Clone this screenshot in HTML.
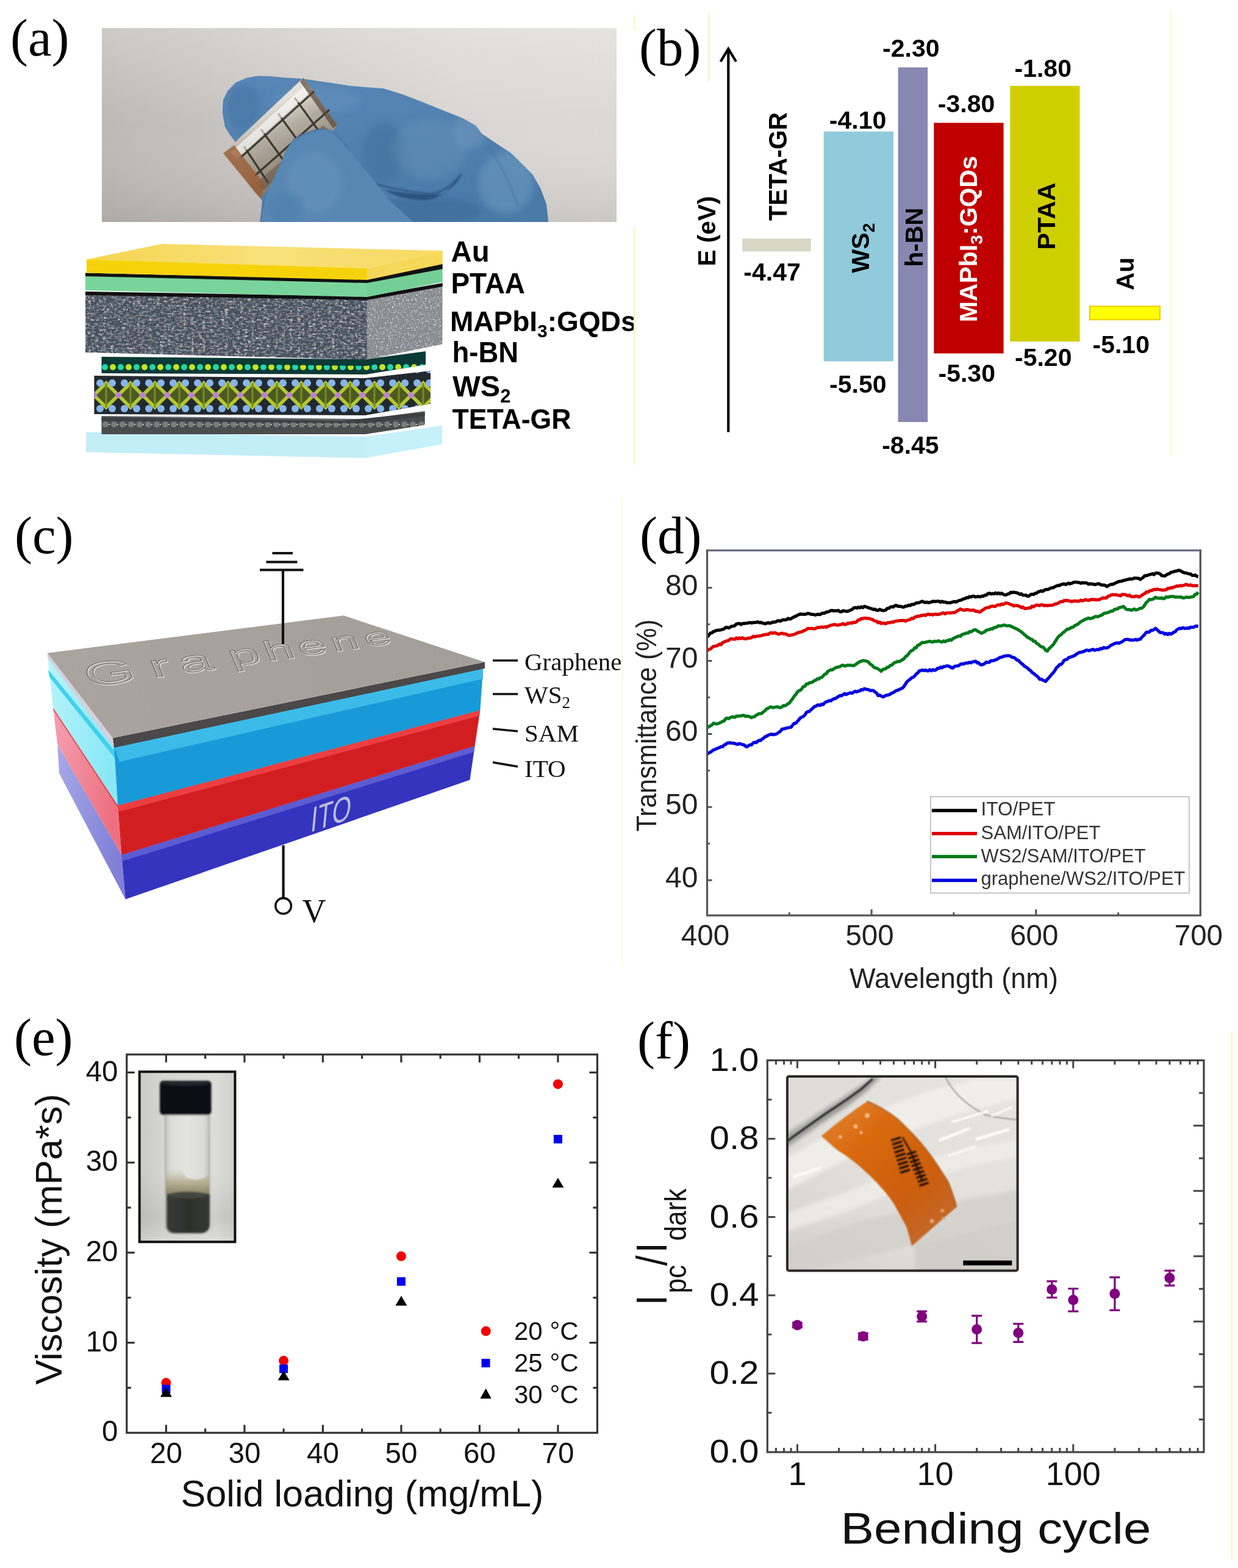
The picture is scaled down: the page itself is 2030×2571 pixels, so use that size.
<!DOCTYPE html><html><head><meta charset="utf-8"><style>html,body{margin:0;padding:0;background:#fff}svg{display:block}</style></head><body><svg width="2030" height="2571" viewBox="0 0 2030 2571"><rect width="2030" height="2571" fill="#fff"/>
<text x="17.0" y="90.6" font-size="87" font-family="Liberation Serif, Times New Roman, serif" fill="#000" text-anchor="start" >(a)</text>
<text x="1048.0" y="106.7" font-size="87" font-family="Liberation Serif, Times New Roman, serif" fill="#000" text-anchor="start" >(b)</text>
<text x="24.0" y="907.0" font-size="87" font-family="Liberation Serif, Times New Roman, serif" fill="#000" text-anchor="start" >(c)</text>
<text x="1049.0" y="907.0" font-size="87" font-family="Liberation Serif, Times New Roman, serif" fill="#000" text-anchor="start" >(d)</text>
<text x="23.0" y="1729.7" font-size="87" font-family="Liberation Serif, Times New Roman, serif" fill="#000" text-anchor="start" >(e)</text>
<text x="1045.0" y="1735.0" font-size="87" font-family="Liberation Serif, Times New Roman, serif" fill="#000" text-anchor="start" >(f)</text>
<line x1="1162.3" y1="20" x2="1162.3" y2="135" stroke="#f2f2c8" stroke-width="2"/>
<line x1="1920" y1="17" x2="1920" y2="748" stroke="#fbfbd8" stroke-width="3"/>
<line x1="1194.3" y1="82.0" x2="1194.3" y2="708.5" stroke="#000" stroke-width="4.2" />
<path d="M1181.5 101 L1194.3 80 L1207 101" fill="none" stroke="#000" stroke-width="4.2" stroke-linejoin="miter"/>
<rect x="1217.3" y="391.2" width="112.4" height="21.1" fill="#d8d6c4"/>
<rect x="1350.6" y="215.6" width="114.4" height="376.9" fill="#91cadb"/>
<rect x="1472.6" y="110.5" width="48.6" height="581.5" fill="#8887b1"/>
<rect x="1531.3" y="201.4" width="114.3" height="378.1" fill="#c00000"/>
<rect x="1656.2" y="140.8" width="114.3" height="419.2" fill="#cfcf00"/>
<rect x="1787" y="502.2" width="115" height="22" fill="#ffff00" stroke="#f2c800" stroke-width="2"/>
<text x="1447.1" y="92.9" font-size="41" font-family="Liberation Sans, Arial, sans-serif" font-weight="bold" fill="#000" text-anchor="start" >-2.30</text>
<text x="1359.8" y="210.9" font-size="41" font-family="Liberation Sans, Arial, sans-serif" font-weight="bold" fill="#000" text-anchor="start" >-4.10</text>
<text x="1537.8" y="183.5" font-size="41" font-family="Liberation Sans, Arial, sans-serif" font-weight="bold" fill="#000" text-anchor="start" >-3.80</text>
<text x="1663.5" y="125.7" font-size="41" font-family="Liberation Sans, Arial, sans-serif" font-weight="bold" fill="#000" text-anchor="start" >-1.80</text>
<text x="1219.3" y="460.3" font-size="41" font-family="Liberation Sans, Arial, sans-serif" font-weight="bold" fill="#000" text-anchor="start" >-4.47</text>
<text x="1360.1" y="643.5" font-size="41" font-family="Liberation Sans, Arial, sans-serif" font-weight="bold" fill="#000" text-anchor="start" >-5.50</text>
<text x="1446.2" y="743.6" font-size="41" font-family="Liberation Sans, Arial, sans-serif" font-weight="bold" fill="#000" text-anchor="start" >-8.45</text>
<text x="1538.5" y="625.9" font-size="41" font-family="Liberation Sans, Arial, sans-serif" font-weight="bold" fill="#000" text-anchor="start" >-5.30</text>
<text x="1664.0" y="599.6" font-size="41" font-family="Liberation Sans, Arial, sans-serif" font-weight="bold" fill="#000" text-anchor="start" >-5.20</text>
<text x="1791.5" y="578.5" font-size="41" font-family="Liberation Sans, Arial, sans-serif" font-weight="bold" fill="#000" text-anchor="start" >-5.10</text>
<text transform="translate(1173.2,436.5) rotate(-90)" font-size="41" font-family="Liberation Sans, Arial, sans-serif" font-weight="bold" fill="#000" textLength="115" lengthAdjust="spacingAndGlyphs">E (eV)</text>
<text transform="translate(1289.9,362.0) rotate(-90)" font-size="42.5" font-family="Liberation Sans, Arial, sans-serif" font-weight="bold" fill="#000" textLength="178" lengthAdjust="spacingAndGlyphs">TETA-GR</text>
<text transform="translate(1424.5,447.4) rotate(-90)" font-size="41" font-family="Liberation Sans, Arial, sans-serif" font-weight="bold" fill="#000">WS<tspan font-size="28" dy="9">2</tspan></text>
<text transform="translate(1512.8,437.5) rotate(-90)" font-size="41" font-family="Liberation Sans, Arial, sans-serif" font-weight="bold" fill="#000" textLength="97" lengthAdjust="spacingAndGlyphs">h-BN</text>
<text transform="translate(1601.5,528.3) rotate(-90)" font-size="41" font-family="Liberation Sans, Arial, sans-serif" font-weight="bold" fill="#fff">MAPbI<tspan font-size="28" dy="9">3</tspan><tspan dy="-9">:GQDs</tspan></text>
<text transform="translate(1729.7,409.5) rotate(-90)" font-size="41" font-family="Liberation Sans, Arial, sans-serif" font-weight="bold" fill="#000" textLength="110" lengthAdjust="spacingAndGlyphs">PTAA</text>
<text transform="translate(1858.7,476.0) rotate(-90)" font-size="41" font-family="Liberation Sans, Arial, sans-serif" font-weight="bold" fill="#000" textLength="54" lengthAdjust="spacingAndGlyphs">Au</text>
<path d="M1159.8 1044.6L1162.3 1041.4L1164.8 1038.1L1167.3 1037.7L1169.8 1035.5L1172.3 1034.9L1174.8 1033.7L1177.3 1033.3L1179.8 1033.2L1182.3 1032.8L1184.8 1031.9L1187.3 1031.2L1189.8 1028.8L1192.3 1028.7L1194.8 1029.7L1197.3 1028.4L1199.8 1026.8L1202.3 1026.6L1204.8 1026.0L1207.3 1023.2L1209.8 1022.6L1212.3 1022.2L1214.8 1024.0L1217.3 1022.3L1219.8 1022.4L1222.3 1022.0L1224.8 1021.9L1227.3 1021.3L1229.8 1020.8L1232.3 1021.6L1234.8 1020.8L1237.3 1020.6L1239.8 1020.7L1242.3 1019.7L1244.8 1020.9L1247.3 1020.4L1249.8 1021.6L1252.3 1021.9L1254.8 1022.8L1257.3 1021.7L1259.8 1021.0L1262.3 1022.0L1264.8 1021.3L1267.3 1019.9L1269.8 1020.2L1272.3 1019.4L1274.8 1017.9L1277.3 1017.9L1279.8 1018.5L1282.3 1016.6L1284.8 1016.3L1287.3 1016.4L1289.8 1016.0L1292.3 1014.0L1294.8 1015.2L1297.3 1014.3L1299.8 1012.6L1302.3 1011.5L1304.8 1010.4L1307.3 1009.0L1309.8 1007.7L1312.3 1006.8L1314.8 1007.1L1317.3 1007.2L1319.8 1007.3L1322.3 1006.8L1324.8 1005.7L1327.3 1006.3L1329.8 1007.2L1332.3 1007.3L1334.8 1007.8L1337.3 1008.4L1339.8 1007.4L1342.3 1007.3L1344.8 1007.6L1347.3 1005.9L1349.8 1005.4L1352.3 1005.4L1354.8 1003.7L1357.3 1003.4L1359.8 1002.4L1362.3 1001.2L1364.8 1001.0L1367.3 1001.8L1369.8 1001.3L1372.3 1001.6L1374.8 1000.9L1377.3 1003.1L1379.8 1003.2L1382.3 1001.4L1384.8 1001.8L1387.3 1002.1L1389.8 1002.3L1392.3 1001.6L1394.8 1000.2L1397.3 999.3L1399.8 997.0L1402.3 996.1L1404.8 997.1L1407.3 995.6L1409.8 996.6L1412.3 995.0L1414.8 996.4L1417.3 994.2L1419.8 994.7L1422.3 996.1L1424.8 996.8L1427.3 997.6L1429.8 998.2L1432.3 999.6L1434.8 998.8L1437.3 1000.5L1439.8 1000.8L1442.3 999.1L1444.8 1000.3L1447.3 1001.0L1449.8 1001.1L1452.3 1000.3L1454.8 997.7L1457.3 997.5L1459.8 995.5L1462.3 994.8L1464.8 995.3L1467.3 993.1L1469.8 992.6L1472.3 994.2L1474.8 994.1L1477.3 994.4L1479.8 995.3L1482.3 995.4L1484.8 993.8L1487.3 993.9L1489.8 992.3L1492.3 993.0L1494.8 991.0L1497.3 991.1L1499.8 990.5L1502.3 988.7L1504.8 988.5L1507.3 988.2L1509.8 987.0L1512.3 985.9L1514.8 987.2L1517.3 988.0L1519.8 987.3L1522.3 988.2L1524.8 987.9L1527.3 987.0L1529.8 985.8L1532.3 986.4L1534.8 986.1L1537.3 985.9L1539.8 985.9L1542.3 987.4L1544.8 985.9L1547.3 987.3L1549.8 987.0L1552.3 988.3L1554.8 988.0L1557.3 988.5L1559.8 987.9L1562.3 987.0L1564.8 986.4L1567.3 987.1L1569.8 986.0L1572.3 984.7L1574.8 984.3L1577.3 983.3L1579.8 981.9L1582.3 981.6L1584.8 979.9L1587.3 980.2L1589.8 978.2L1592.3 978.9L1594.8 977.7L1597.3 977.7L1599.8 978.9L1602.3 978.2L1604.8 978.1L1607.3 978.7L1609.8 977.4L1612.3 977.8L1614.8 975.8L1617.3 975.8L1619.8 973.5L1622.3 972.7L1624.8 973.9L1627.3 973.2L1629.8 973.8L1632.3 972.1L1634.8 973.6L1637.3 972.3L1639.8 973.8L1642.3 972.7L1644.8 974.2L1647.3 975.6L1649.8 975.4L1652.3 974.0L1654.8 973.7L1657.3 971.2L1659.8 971.6L1662.3 971.0L1664.8 971.6L1667.3 971.8L1669.8 973.1L1672.3 974.5L1674.8 973.7L1677.3 975.8L1679.8 976.0L1682.3 975.8L1684.8 977.6L1687.3 977.2L1689.8 975.0L1692.3 974.2L1694.8 974.8L1697.3 972.9L1699.8 972.7L1702.3 970.4L1704.8 969.9L1707.3 968.7L1709.8 969.6L1712.3 968.0L1714.8 966.5L1717.3 966.7L1719.8 966.0L1722.3 964.4L1724.8 963.7L1727.3 963.7L1729.8 961.8L1732.3 960.9L1734.8 959.9L1737.3 960.2L1739.8 958.5L1742.3 957.9L1744.8 957.4L1747.3 958.5L1749.8 957.5L1752.3 956.1L1754.8 957.3L1757.3 956.4L1759.8 955.1L1762.3 954.5L1764.8 954.5L1767.3 955.1L1769.8 955.2L1772.3 956.3L1774.8 955.4L1777.3 955.8L1779.8 955.6L1782.3 956.0L1784.8 957.9L1787.3 957.2L1789.8 957.6L1792.3 957.7L1794.8 958.6L1797.3 958.1L1799.8 957.1L1802.3 957.2L1804.8 958.8L1807.3 959.1L1809.8 959.4L1812.3 959.7L1814.8 961.7L1817.3 960.2L1819.8 959.0L1822.3 958.1L1824.8 958.1L1827.3 956.8L1829.8 955.7L1832.3 954.5L1834.8 953.5L1837.3 953.1L1839.8 953.0L1842.3 951.5L1844.8 951.3L1847.3 950.5L1849.8 950.1L1852.3 949.2L1854.8 949.3L1857.3 949.2L1859.8 947.9L1862.3 948.0L1864.8 948.1L1867.3 948.3L1869.8 950.2L1872.3 948.3L1874.8 946.5L1877.3 943.8L1879.8 944.0L1882.3 943.0L1884.8 942.3L1887.3 941.7L1889.8 940.7L1892.3 942.2L1894.8 939.5L1897.3 939.7L1899.8 940.0L1902.3 940.9L1904.8 943.9L1907.3 944.0L1909.8 944.4L1912.3 942.9L1914.8 941.2L1917.3 940.7L1919.8 938.6L1922.3 938.0L1924.8 937.3L1927.3 936.5L1929.8 936.2L1932.3 935.2L1934.8 935.4L1937.3 937.0L1939.8 938.1L1942.3 939.4L1944.8 939.4L1947.3 940.3L1949.8 941.0L1952.3 941.2L1954.8 943.4L1957.3 943.5L1959.8 942.9L1962.3 944.9L1964.8 945.4" fill="none" stroke="#000" stroke-width="5.2" stroke-linejoin="round"/>
<path d="M1159.8 1067.0L1162.3 1064.7L1164.8 1064.3L1167.3 1061.9L1169.8 1059.8L1172.3 1059.5L1174.8 1059.1L1177.3 1057.9L1179.8 1056.0L1182.3 1057.0L1184.8 1053.9L1187.3 1052.7L1189.8 1051.5L1192.3 1050.8L1194.8 1050.1L1197.3 1047.9L1199.8 1047.5L1202.3 1047.8L1204.8 1048.2L1207.3 1046.0L1209.8 1047.5L1212.3 1045.8L1214.8 1047.1L1217.3 1045.7L1219.8 1047.2L1222.3 1047.4L1224.8 1047.2L1227.3 1046.0L1229.8 1046.3L1232.3 1045.5L1234.8 1043.4L1237.3 1044.0L1239.8 1043.4L1242.3 1043.0L1244.8 1042.8L1247.3 1042.4L1249.8 1041.7L1252.3 1040.8L1254.8 1040.8L1257.3 1039.9L1259.8 1040.5L1262.3 1038.0L1264.8 1037.6L1267.3 1038.4L1269.8 1037.5L1272.3 1038.1L1274.8 1039.2L1277.3 1039.9L1279.8 1038.8L1282.3 1038.2L1284.8 1039.4L1287.3 1039.3L1289.8 1040.0L1292.3 1041.5L1294.8 1041.8L1297.3 1041.1L1299.8 1041.0L1302.3 1039.9L1304.8 1039.2L1307.3 1037.8L1309.8 1037.0L1312.3 1036.2L1314.8 1035.9L1317.3 1034.4L1319.8 1033.5L1322.3 1032.2L1324.8 1030.3L1327.3 1030.7L1329.8 1030.3L1332.3 1030.6L1334.8 1031.1L1337.3 1030.7L1339.8 1029.0L1342.3 1028.6L1344.8 1028.8L1347.3 1027.9L1349.8 1028.7L1352.3 1027.5L1354.8 1028.5L1357.3 1027.0L1359.8 1026.4L1362.3 1025.2L1364.8 1024.9L1367.3 1023.9L1369.8 1024.1L1372.3 1025.1L1374.8 1024.9L1377.3 1024.2L1379.8 1023.9L1382.3 1022.5L1384.8 1024.1L1387.3 1023.6L1389.8 1021.9L1392.3 1022.2L1394.8 1021.0L1397.3 1021.9L1399.8 1020.2L1402.3 1020.6L1404.8 1019.4L1407.3 1016.5L1409.8 1016.5L1412.3 1014.2L1414.8 1014.4L1417.3 1013.6L1419.8 1013.5L1422.3 1014.2L1424.8 1013.8L1427.3 1015.0L1429.8 1015.3L1432.3 1017.0L1434.8 1018.3L1437.3 1018.5L1439.8 1021.1L1442.3 1019.9L1444.8 1022.3L1447.3 1021.6L1449.8 1022.0L1452.3 1022.8L1454.8 1021.2L1457.3 1020.9L1459.8 1020.9L1462.3 1019.8L1464.8 1020.2L1467.3 1018.6L1469.8 1018.3L1472.3 1017.9L1474.8 1017.9L1477.3 1017.3L1479.8 1017.4L1482.3 1017.3L1484.8 1018.5L1487.3 1017.2L1489.8 1016.5L1492.3 1016.0L1494.8 1013.8L1497.3 1014.4L1499.8 1012.0L1502.3 1011.2L1504.8 1010.1L1507.3 1010.6L1509.8 1009.2L1512.3 1009.3L1514.8 1008.0L1517.3 1009.3L1519.8 1007.8L1522.3 1006.9L1524.8 1008.0L1527.3 1007.1L1529.8 1008.3L1532.3 1007.0L1534.8 1007.1L1537.3 1007.7L1539.8 1007.3L1542.3 1006.6L1544.8 1005.4L1547.3 1005.1L1549.8 1006.5L1552.3 1004.9L1554.8 1005.0L1557.3 1005.0L1559.8 1005.1L1562.3 1004.3L1564.8 1004.5L1567.3 1003.5L1569.8 1001.4L1572.3 1000.4L1574.8 998.5L1577.3 999.7L1579.8 1000.2L1582.3 1000.7L1584.8 999.4L1587.3 999.9L1589.8 1000.4L1592.3 1000.8L1594.8 1000.3L1597.3 1000.6L1599.8 1002.4L1602.3 1002.2L1604.8 1003.4L1607.3 1003.4L1609.8 1001.3L1612.3 999.8L1614.8 997.8L1617.3 996.7L1619.8 996.3L1622.3 995.9L1624.8 994.2L1627.3 993.8L1629.8 994.4L1632.3 994.1L1634.8 992.2L1637.3 991.8L1639.8 992.3L1642.3 990.3L1644.8 991.1L1647.3 989.8L1649.8 988.6L1652.3 989.2L1654.8 990.1L1657.3 991.3L1659.8 991.9L1662.3 993.6L1664.8 992.8L1667.3 992.8L1669.8 993.6L1672.3 994.4L1674.8 996.3L1677.3 995.2L1679.8 997.8L1682.3 997.7L1684.8 997.2L1687.3 996.8L1689.8 996.9L1692.3 993.8L1694.8 995.0L1697.3 993.0L1699.8 992.1L1702.3 992.3L1704.8 993.1L1707.3 991.5L1709.8 992.0L1712.3 993.1L1714.8 992.5L1717.3 993.1L1719.8 992.7L1722.3 992.4L1724.8 992.5L1727.3 991.6L1729.8 990.4L1732.3 990.1L1734.8 989.2L1737.3 987.5L1739.8 986.3L1742.3 986.7L1744.8 984.5L1747.3 985.0L1749.8 984.3L1752.3 985.3L1754.8 985.3L1757.3 986.6L1759.8 985.6L1762.3 985.2L1764.8 985.6L1767.3 985.7L1769.8 985.6L1772.3 984.0L1774.8 985.1L1777.3 984.4L1779.8 983.0L1782.3 983.9L1784.8 984.6L1787.3 983.5L1789.8 982.8L1792.3 983.1L1794.8 982.9L1797.3 983.8L1799.8 983.2L1802.3 983.5L1804.8 981.9L1807.3 980.9L1809.8 980.4L1812.3 980.7L1814.8 980.1L1817.3 977.3L1819.8 977.0L1822.3 975.3L1824.8 975.0L1827.3 975.3L1829.8 975.0L1832.3 975.8L1834.8 976.0L1837.3 977.0L1839.8 974.7L1842.3 974.5L1844.8 975.0L1847.3 975.9L1849.8 977.0L1852.3 976.0L1854.8 978.4L1857.3 978.4L1859.8 978.4L1862.3 977.3L1864.8 977.5L1867.3 978.9L1869.8 977.9L1872.3 976.1L1874.8 974.3L1877.3 973.2L1879.8 970.5L1882.3 971.0L1884.8 969.1L1887.3 968.4L1889.8 967.9L1892.3 966.3L1894.8 966.8L1897.3 966.1L1899.8 966.5L1902.3 966.8L1904.8 967.4L1907.3 967.8L1909.8 967.2L1912.3 967.1L1914.8 964.7L1917.3 965.0L1919.8 963.5L1922.3 964.1L1924.8 962.4L1927.3 962.0L1929.8 960.7L1932.3 961.2L1934.8 960.0L1937.3 960.8L1939.8 960.1L1942.3 959.4L1944.8 958.1L1947.3 959.3L1949.8 959.7L1952.3 958.9L1954.8 960.3L1957.3 960.3L1959.8 960.2L1962.3 960.3L1964.8 960.4" fill="none" stroke="#e00000" stroke-width="5.2" stroke-linejoin="round"/>
<path d="M1159.8 1193.5L1162.3 1191.5L1164.8 1190.1L1167.3 1188.8L1169.8 1185.9L1172.3 1186.5L1174.8 1186.8L1177.3 1186.5L1179.8 1185.6L1182.3 1184.2L1184.8 1182.9L1187.3 1182.3L1189.8 1178.5L1192.3 1177.4L1194.8 1178.3L1197.3 1176.6L1199.8 1175.6L1202.3 1175.4L1204.8 1176.2L1207.3 1174.4L1209.8 1174.1L1212.3 1174.0L1214.8 1173.9L1217.3 1173.2L1219.8 1172.9L1222.3 1174.7L1224.8 1174.1L1227.3 1174.6L1229.8 1175.3L1232.3 1176.8L1234.8 1175.5L1237.3 1175.2L1239.8 1172.8L1242.3 1171.4L1244.8 1170.0L1247.3 1170.2L1249.8 1169.3L1252.3 1166.7L1254.8 1164.8L1257.3 1162.1L1259.8 1161.2L1262.3 1159.6L1264.8 1159.1L1267.3 1160.1L1269.8 1159.8L1272.3 1159.3L1274.8 1158.8L1277.3 1160.2L1279.8 1160.2L1282.3 1158.9L1284.8 1156.9L1287.3 1157.2L1289.8 1155.6L1292.3 1153.9L1294.8 1152.2L1297.3 1148.7L1299.8 1145.7L1302.3 1141.5L1304.8 1138.9L1307.3 1134.9L1309.8 1132.6L1312.3 1131.8L1314.8 1129.4L1317.3 1125.7L1319.8 1125.3L1322.3 1121.3L1324.8 1121.5L1327.3 1119.5L1329.8 1119.2L1332.3 1118.4L1334.8 1116.3L1337.3 1115.6L1339.8 1113.1L1342.3 1113.5L1344.8 1111.3L1347.3 1110.8L1349.8 1108.3L1352.3 1105.5L1354.8 1104.7L1357.3 1101.0L1359.8 1099.5L1362.3 1098.2L1364.8 1098.4L1367.3 1096.6L1369.8 1095.1L1372.3 1094.1L1374.8 1093.6L1377.3 1093.2L1379.8 1091.2L1382.3 1090.7L1384.8 1092.0L1387.3 1091.6L1389.8 1090.6L1392.3 1091.0L1394.8 1090.7L1397.3 1091.1L1399.8 1091.5L1402.3 1090.1L1404.8 1088.2L1407.3 1086.4L1409.8 1085.0L1412.3 1084.0L1414.8 1083.3L1417.3 1083.2L1419.8 1084.0L1422.3 1084.3L1424.8 1086.4L1427.3 1089.2L1429.8 1090.6L1432.3 1093.5L1434.8 1095.2L1437.3 1095.3L1439.8 1097.0L1442.3 1098.3L1444.8 1100.7L1447.3 1098.1L1449.8 1096.9L1452.3 1096.7L1454.8 1094.0L1457.3 1093.8L1459.8 1091.1L1462.3 1090.5L1464.8 1088.2L1467.3 1086.0L1469.8 1086.0L1472.3 1084.2L1474.8 1084.8L1477.3 1083.3L1479.8 1081.7L1482.3 1080.1L1484.8 1076.7L1487.3 1075.2L1489.8 1072.2L1492.3 1068.8L1494.8 1066.9L1497.3 1065.9L1499.8 1062.1L1502.3 1062.1L1504.8 1058.0L1507.3 1057.5L1509.8 1055.3L1512.3 1053.4L1514.8 1053.6L1517.3 1053.3L1519.8 1052.5L1522.3 1052.1L1524.8 1051.4L1527.3 1052.4L1529.8 1052.7L1532.3 1051.3L1534.8 1052.1L1537.3 1051.1L1539.8 1050.9L1542.3 1052.3L1544.8 1052.7L1547.3 1051.0L1549.8 1052.3L1552.3 1050.3L1554.8 1050.5L1557.3 1048.6L1559.8 1049.8L1562.3 1047.4L1564.8 1046.1L1567.3 1044.7L1569.8 1043.9L1572.3 1042.7L1574.8 1043.3L1577.3 1040.5L1579.8 1039.7L1582.3 1039.0L1584.8 1037.8L1587.3 1038.2L1589.8 1035.5L1592.3 1036.0L1594.8 1034.3L1597.3 1032.8L1599.8 1032.5L1602.3 1034.7L1604.8 1035.7L1607.3 1037.5L1609.8 1038.3L1612.3 1037.0L1614.8 1035.8L1617.3 1033.4L1619.8 1032.8L1622.3 1032.4L1624.8 1030.9L1627.3 1031.3L1629.8 1029.0L1632.3 1028.9L1634.8 1027.6L1637.3 1026.1L1639.8 1026.3L1642.3 1026.1L1644.8 1025.2L1647.3 1024.8L1649.8 1026.0L1652.3 1026.0L1654.8 1025.8L1657.3 1026.7L1659.8 1027.9L1662.3 1029.1L1664.8 1030.3L1667.3 1031.2L1669.8 1032.9L1672.3 1034.2L1674.8 1036.1L1677.3 1038.3L1679.8 1040.5L1682.3 1042.6L1684.8 1045.0L1687.3 1046.0L1689.8 1047.8L1692.3 1048.6L1694.8 1051.7L1697.3 1051.4L1699.8 1054.9L1702.3 1056.1L1704.8 1058.7L1707.3 1060.5L1709.8 1060.8L1712.3 1062.9L1714.8 1066.4L1717.3 1067.5L1719.8 1063.8L1722.3 1061.7L1724.8 1058.9L1727.3 1056.8L1729.8 1052.5L1732.3 1048.7L1734.8 1044.9L1737.3 1042.3L1739.8 1040.7L1742.3 1038.0L1744.8 1036.2L1747.3 1034.1L1749.8 1031.7L1752.3 1031.7L1754.8 1030.0L1757.3 1028.6L1759.8 1028.3L1762.3 1025.7L1764.8 1024.8L1767.3 1023.5L1769.8 1021.4L1772.3 1019.3L1774.8 1018.0L1777.3 1016.8L1779.8 1015.2L1782.3 1014.6L1784.8 1013.4L1787.3 1014.4L1789.8 1013.8L1792.3 1013.0L1794.8 1011.3L1797.3 1010.8L1799.8 1011.3L1802.3 1010.3L1804.8 1009.0L1807.3 1008.4L1809.8 1006.0L1812.3 1005.3L1814.8 1004.9L1817.3 1004.2L1819.8 1003.2L1822.3 1001.9L1824.8 1001.9L1827.3 999.2L1829.8 998.8L1832.3 998.5L1834.8 996.3L1837.3 995.9L1839.8 995.3L1842.3 994.3L1844.8 997.3L1847.3 999.3L1849.8 999.7L1852.3 999.6L1854.8 1000.4L1857.3 999.9L1859.8 998.6L1862.3 1000.1L1864.8 999.7L1867.3 998.7L1869.8 997.3L1872.3 997.1L1874.8 995.2L1877.3 991.6L1879.8 987.8L1882.3 985.7L1884.8 982.7L1887.3 983.2L1889.8 982.5L1892.3 981.5L1894.8 979.1L1897.3 980.7L1899.8 980.7L1902.3 981.2L1904.8 980.3L1907.3 981.6L1909.8 981.1L1912.3 978.7L1914.8 979.1L1917.3 978.6L1919.8 978.1L1922.3 978.1L1924.8 978.0L1927.3 979.3L1929.8 978.9L1932.3 979.0L1934.8 979.2L1937.3 978.9L1939.8 980.4L1942.3 980.2L1944.8 979.2L1947.3 979.4L1949.8 979.6L1952.3 979.0L1954.8 978.7L1957.3 978.0L1959.8 974.5L1962.3 974.1L1964.8 971.0" fill="none" stroke="#007a1a" stroke-width="5.2" stroke-linejoin="round"/>
<path d="M1159.8 1236.6L1162.3 1234.4L1164.8 1233.3L1167.3 1231.6L1169.8 1229.8L1172.3 1229.1L1174.8 1227.7L1177.3 1226.6L1179.8 1225.7L1182.3 1224.4L1184.8 1224.4L1187.3 1221.6L1189.8 1220.8L1192.3 1218.4L1194.8 1218.2L1197.3 1217.9L1199.8 1218.5L1202.3 1218.5L1204.8 1219.1L1207.3 1220.0L1209.8 1220.5L1212.3 1219.1L1214.8 1220.0L1217.3 1220.8L1219.8 1221.4L1222.3 1223.4L1224.8 1224.6L1227.3 1222.5L1229.8 1221.3L1232.3 1221.5L1234.8 1218.3L1237.3 1217.0L1239.8 1217.8L1242.3 1215.5L1244.8 1213.9L1247.3 1214.1L1249.8 1211.7L1252.3 1210.1L1254.8 1208.0L1257.3 1207.0L1259.8 1205.3L1262.3 1204.7L1264.8 1203.7L1267.3 1204.6L1269.8 1204.1L1272.3 1203.8L1274.8 1202.5L1277.3 1200.5L1279.8 1199.1L1282.3 1195.6L1284.8 1195.1L1287.3 1194.5L1289.8 1193.7L1292.3 1193.3L1294.8 1192.7L1297.3 1192.2L1299.8 1188.9L1302.3 1186.1L1304.8 1186.0L1307.3 1183.1L1309.8 1180.4L1312.3 1177.2L1314.8 1175.8L1317.3 1174.7L1319.8 1172.3L1322.3 1168.3L1324.8 1166.8L1327.3 1166.4L1329.8 1163.9L1332.3 1161.7L1334.8 1158.9L1337.3 1158.4L1339.8 1156.4L1342.3 1155.8L1344.8 1156.7L1347.3 1154.5L1349.8 1155.3L1352.3 1152.3L1354.8 1150.7L1357.3 1150.1L1359.8 1148.8L1362.3 1149.2L1364.8 1147.1L1367.3 1145.9L1369.8 1145.3L1372.3 1143.7L1374.8 1141.8L1377.3 1140.6L1379.8 1140.8L1382.3 1139.2L1384.8 1137.2L1387.3 1138.9L1389.8 1137.4L1392.3 1136.7L1394.8 1135.9L1397.3 1136.7L1399.8 1134.8L1402.3 1133.4L1404.8 1134.6L1407.3 1133.2L1409.8 1133.0L1412.3 1130.7L1414.8 1131.3L1417.3 1129.2L1419.8 1130.2L1422.3 1130.3L1424.8 1131.2L1427.3 1132.4L1429.8 1132.0L1432.3 1132.3L1434.8 1134.7L1437.3 1136.2L1439.8 1140.5L1442.3 1139.7L1444.8 1141.2L1447.3 1142.6L1449.8 1142.1L1452.3 1140.0L1454.8 1140.0L1457.3 1139.2L1459.8 1138.3L1462.3 1136.3L1464.8 1135.8L1467.3 1133.8L1469.8 1132.1L1472.3 1131.8L1474.8 1130.3L1477.3 1129.5L1479.8 1128.1L1482.3 1125.7L1484.8 1121.5L1487.3 1117.8L1489.8 1115.7L1492.3 1113.8L1494.8 1111.3L1497.3 1110.6L1499.8 1108.4L1502.3 1105.2L1504.8 1103.5L1507.3 1100.1L1509.8 1099.5L1512.3 1098.6L1514.8 1099.6L1517.3 1098.6L1519.8 1099.9L1522.3 1099.9L1524.8 1098.0L1527.3 1099.8L1529.8 1098.0L1532.3 1099.2L1534.8 1098.3L1537.3 1095.8L1539.8 1095.9L1542.3 1093.9L1544.8 1095.0L1547.3 1092.8L1549.8 1093.0L1552.3 1091.8L1554.8 1092.0L1557.3 1093.0L1559.8 1094.7L1562.3 1095.4L1564.8 1092.9L1567.3 1092.0L1569.8 1091.9L1572.3 1091.4L1574.8 1089.2L1577.3 1088.4L1579.8 1088.9L1582.3 1087.5L1584.8 1087.0L1587.3 1087.1L1589.8 1086.0L1592.3 1086.9L1594.8 1085.0L1597.3 1084.9L1599.8 1084.1L1602.3 1086.9L1604.8 1086.7L1607.3 1089.6L1609.8 1090.1L1612.3 1089.2L1614.8 1088.1L1617.3 1085.4L1619.8 1086.2L1622.3 1085.9L1624.8 1083.3L1627.3 1083.5L1629.8 1082.9L1632.3 1082.0L1634.8 1081.0L1637.3 1079.5L1639.8 1077.9L1642.3 1077.6L1644.8 1076.5L1647.3 1075.7L1649.8 1075.3L1652.3 1075.1L1654.8 1075.0L1657.3 1076.2L1659.8 1078.0L1662.3 1078.0L1664.8 1079.5L1667.3 1082.2L1669.8 1082.6L1672.3 1085.4L1674.8 1087.8L1677.3 1089.5L1679.8 1092.4L1682.3 1093.6L1684.8 1095.3L1687.3 1098.0L1689.8 1099.4L1692.3 1102.8L1694.8 1104.1L1697.3 1106.2L1699.8 1108.1L1702.3 1110.4L1704.8 1113.8L1707.3 1113.5L1709.8 1115.2L1712.3 1116.2L1714.8 1117.3L1717.3 1113.9L1719.8 1111.2L1722.3 1108.4L1724.8 1105.4L1727.3 1102.7L1729.8 1099.3L1732.3 1094.9L1734.8 1092.8L1737.3 1089.9L1739.8 1089.4L1742.3 1087.1L1744.8 1082.8L1747.3 1081.5L1749.8 1081.2L1752.3 1078.1L1754.8 1077.7L1757.3 1076.7L1759.8 1075.8L1762.3 1074.9L1764.8 1072.5L1767.3 1071.4L1769.8 1069.5L1772.3 1069.7L1774.8 1068.6L1777.3 1068.3L1779.8 1066.8L1782.3 1065.9L1784.8 1066.9L1787.3 1066.2L1789.8 1065.6L1792.3 1064.6L1794.8 1066.2L1797.3 1065.5L1799.8 1064.8L1802.3 1065.4L1804.8 1063.2L1807.3 1063.8L1809.8 1061.6L1812.3 1062.5L1814.8 1062.4L1817.3 1061.3L1819.8 1059.5L1822.3 1057.6L1824.8 1056.7L1827.3 1055.2L1829.8 1054.6L1832.3 1054.0L1834.8 1054.7L1837.3 1053.4L1839.8 1052.3L1842.3 1050.5L1844.8 1048.7L1847.3 1048.5L1849.8 1048.3L1852.3 1049.4L1854.8 1049.2L1857.3 1049.7L1859.8 1049.2L1862.3 1048.4L1864.8 1049.6L1867.3 1048.2L1869.8 1048.1L1872.3 1044.9L1874.8 1042.6L1877.3 1039.9L1879.8 1036.7L1882.3 1036.7L1884.8 1036.1L1887.3 1033.6L1889.8 1033.3L1892.3 1032.3L1894.8 1030.3L1897.3 1032.4L1899.8 1034.8L1902.3 1037.2L1904.8 1037.2L1907.3 1037.6L1909.8 1039.8L1912.3 1038.6L1914.8 1040.5L1917.3 1038.4L1919.8 1039.8L1922.3 1038.4L1924.8 1036.4L1927.3 1035.7L1929.8 1032.5L1932.3 1031.2L1934.8 1030.1L1937.3 1030.6L1939.8 1029.2L1942.3 1030.3L1944.8 1030.2L1947.3 1029.9L1949.8 1030.1L1952.3 1028.2L1954.8 1028.7L1957.3 1028.5L1959.8 1026.9L1962.3 1026.6L1964.8 1027.1" fill="none" stroke="#0000e0" stroke-width="5.2" stroke-linejoin="round"/>
<rect x="1159.5" y="902.5" width="808.8" height="598.5" fill="none" stroke="#555" stroke-width="3.2"/>
<line x1="1161" y1="902.5" x2="1967" y2="902.5" stroke="#6a6a82" stroke-width="3.2"/>
<line x1="1159.5" y1="1443.2" x2="1167.5" y2="1443.2" stroke="#555" stroke-width="3" />
<line x1="1159.5" y1="1383.3" x2="1164.0" y2="1383.3" stroke="#555" stroke-width="3" />
<line x1="1159.5" y1="1323.3" x2="1167.5" y2="1323.3" stroke="#555" stroke-width="3" />
<line x1="1159.5" y1="1263.4" x2="1164.0" y2="1263.4" stroke="#555" stroke-width="3" />
<line x1="1159.5" y1="1203.5" x2="1167.5" y2="1203.5" stroke="#555" stroke-width="3" />
<line x1="1159.5" y1="1143.6" x2="1164.0" y2="1143.6" stroke="#555" stroke-width="3" />
<line x1="1159.5" y1="1083.6" x2="1167.5" y2="1083.6" stroke="#555" stroke-width="3" />
<line x1="1159.5" y1="1023.7" x2="1164.0" y2="1023.7" stroke="#555" stroke-width="3" />
<line x1="1159.5" y1="963.8" x2="1167.5" y2="963.8" stroke="#555" stroke-width="3" />
<line x1="1159.5" y1="1501.0" x2="1159.5" y2="1491.0" stroke="#555" stroke-width="3" />
<line x1="1294.3" y1="1501.0" x2="1294.3" y2="1496.0" stroke="#555" stroke-width="3" />
<line x1="1429.1" y1="1501.0" x2="1429.1" y2="1491.0" stroke="#555" stroke-width="3" />
<line x1="1563.9" y1="1501.0" x2="1563.9" y2="1496.0" stroke="#555" stroke-width="3" />
<line x1="1698.8" y1="1501.0" x2="1698.8" y2="1491.0" stroke="#555" stroke-width="3" />
<line x1="1833.6" y1="1501.0" x2="1833.6" y2="1496.0" stroke="#555" stroke-width="3" />
<line x1="1968.4" y1="1501.0" x2="1968.4" y2="1491.0" stroke="#555" stroke-width="3" />
<text x="1144.5" y="975.6" font-size="48" font-family="Liberation Sans, Arial, sans-serif" fill="#222" text-anchor="end" >80</text>
<text x="1144.5" y="1095.4" font-size="48" font-family="Liberation Sans, Arial, sans-serif" fill="#222" text-anchor="end" >70</text>
<text x="1144.5" y="1215.3" font-size="48" font-family="Liberation Sans, Arial, sans-serif" fill="#222" text-anchor="end" >60</text>
<text x="1144.5" y="1335.1" font-size="48" font-family="Liberation Sans, Arial, sans-serif" fill="#222" text-anchor="end" >50</text>
<text x="1144.5" y="1455.0" font-size="48" font-family="Liberation Sans, Arial, sans-serif" fill="#222" text-anchor="end" >40</text>
<text x="1156.5" y="1550.0" font-size="47.5" font-family="Liberation Sans, Arial, sans-serif" fill="#222" text-anchor="middle" >400</text>
<text x="1426.1" y="1550.0" font-size="47.5" font-family="Liberation Sans, Arial, sans-serif" fill="#222" text-anchor="middle" >500</text>
<text x="1695.8" y="1550.0" font-size="47.5" font-family="Liberation Sans, Arial, sans-serif" fill="#222" text-anchor="middle" >600</text>
<text x="1965.4" y="1550.0" font-size="47.5" font-family="Liberation Sans, Arial, sans-serif" fill="#222" text-anchor="middle" >700</text>
<text x="1393" y="1620" font-size="45.5" font-family="Liberation Sans, Arial, sans-serif" fill="#222" textLength="342" lengthAdjust="spacingAndGlyphs">Wavelength (nm)</text>
<text transform="translate(1076.3,1363.5) rotate(-90)" font-size="46" font-family="Liberation Sans, Arial, sans-serif" fill="#222" textLength="348" lengthAdjust="spacingAndGlyphs">Transmittance (%)</text>
<rect x="1526" y="1306.3" width="424" height="158" fill="#fff" stroke="#c4c4c4" stroke-width="2"/>
<line x1="1528.0" y1="1329.0" x2="1602.0" y2="1329.0" stroke="#000" stroke-width="5.5" />
<text x="1608.5" y="1337.1" font-size="32" font-family="Liberation Sans, Arial, sans-serif" fill="#333" textLength="122" lengthAdjust="spacingAndGlyphs">ITO/PET</text>
<line x1="1528.0" y1="1366.8" x2="1602.0" y2="1366.8" stroke="#e00000" stroke-width="5.5" />
<text x="1608.5" y="1376.2" font-size="32" font-family="Liberation Sans, Arial, sans-serif" fill="#333" textLength="196" lengthAdjust="spacingAndGlyphs">SAM/ITO/PET</text>
<line x1="1528.0" y1="1404.5" x2="1602.0" y2="1404.5" stroke="#007a1a" stroke-width="5.5" />
<text x="1608.5" y="1413.9" font-size="32" font-family="Liberation Sans, Arial, sans-serif" fill="#333" textLength="270" lengthAdjust="spacingAndGlyphs">WS2/SAM/ITO/PET</text>
<line x1="1528.0" y1="1443.5" x2="1602.0" y2="1443.5" stroke="#0000e0" stroke-width="5.5" />
<text x="1608.5" y="1451" font-size="32" font-family="Liberation Sans, Arial, sans-serif" fill="#333" textLength="335" lengthAdjust="spacingAndGlyphs">graphene/WS2/ITO/PET</text>
<rect x="207.8" y="1729" width="771.6" height="620.3" fill="none" stroke="#333" stroke-width="3.2"/>
<line x1="207.8" y1="2275.5" x2="214.8" y2="2275.5" stroke="#333" stroke-width="3.2" />
<line x1="979.4" y1="2275.5" x2="972.4" y2="2275.5" stroke="#333" stroke-width="3.2" />
<line x1="207.8" y1="2201.6" x2="220.8" y2="2201.6" stroke="#333" stroke-width="3.2" />
<line x1="979.4" y1="2201.6" x2="966.4" y2="2201.6" stroke="#333" stroke-width="3.2" />
<line x1="207.8" y1="2127.8" x2="214.8" y2="2127.8" stroke="#333" stroke-width="3.2" />
<line x1="979.4" y1="2127.8" x2="972.4" y2="2127.8" stroke="#333" stroke-width="3.2" />
<line x1="207.8" y1="2053.9" x2="220.8" y2="2053.9" stroke="#333" stroke-width="3.2" />
<line x1="979.4" y1="2053.9" x2="966.4" y2="2053.9" stroke="#333" stroke-width="3.2" />
<line x1="207.8" y1="1980.1" x2="214.8" y2="1980.1" stroke="#333" stroke-width="3.2" />
<line x1="979.4" y1="1980.1" x2="972.4" y2="1980.1" stroke="#333" stroke-width="3.2" />
<line x1="207.8" y1="1906.2" x2="220.8" y2="1906.2" stroke="#333" stroke-width="3.2" />
<line x1="979.4" y1="1906.2" x2="966.4" y2="1906.2" stroke="#333" stroke-width="3.2" />
<line x1="207.8" y1="1832.4" x2="214.8" y2="1832.4" stroke="#333" stroke-width="3.2" />
<line x1="979.4" y1="1832.4" x2="972.4" y2="1832.4" stroke="#333" stroke-width="3.2" />
<line x1="207.8" y1="1758.5" x2="220.8" y2="1758.5" stroke="#333" stroke-width="3.2" />
<line x1="979.4" y1="1758.5" x2="966.4" y2="1758.5" stroke="#333" stroke-width="3.2" />
<line x1="272.4" y1="2349.3" x2="272.4" y2="2336.3" stroke="#333" stroke-width="3.2" />
<line x1="272.4" y1="1729.0" x2="272.4" y2="1742.0" stroke="#333" stroke-width="3.2" />
<line x1="336.6" y1="2349.3" x2="336.6" y2="2342.3" stroke="#333" stroke-width="3.2" />
<line x1="336.6" y1="1729.0" x2="336.6" y2="1736.0" stroke="#333" stroke-width="3.2" />
<line x1="400.9" y1="2349.3" x2="400.9" y2="2336.3" stroke="#333" stroke-width="3.2" />
<line x1="400.9" y1="1729.0" x2="400.9" y2="1742.0" stroke="#333" stroke-width="3.2" />
<line x1="465.1" y1="2349.3" x2="465.1" y2="2342.3" stroke="#333" stroke-width="3.2" />
<line x1="465.1" y1="1729.0" x2="465.1" y2="1736.0" stroke="#333" stroke-width="3.2" />
<line x1="529.4" y1="2349.3" x2="529.4" y2="2336.3" stroke="#333" stroke-width="3.2" />
<line x1="529.4" y1="1729.0" x2="529.4" y2="1742.0" stroke="#333" stroke-width="3.2" />
<line x1="593.6" y1="2349.3" x2="593.6" y2="2342.3" stroke="#333" stroke-width="3.2" />
<line x1="593.6" y1="1729.0" x2="593.6" y2="1736.0" stroke="#333" stroke-width="3.2" />
<line x1="657.9" y1="2349.3" x2="657.9" y2="2336.3" stroke="#333" stroke-width="3.2" />
<line x1="657.9" y1="1729.0" x2="657.9" y2="1742.0" stroke="#333" stroke-width="3.2" />
<line x1="722.1" y1="2349.3" x2="722.1" y2="2342.3" stroke="#333" stroke-width="3.2" />
<line x1="722.1" y1="1729.0" x2="722.1" y2="1736.0" stroke="#333" stroke-width="3.2" />
<line x1="786.4" y1="2349.3" x2="786.4" y2="2336.3" stroke="#333" stroke-width="3.2" />
<line x1="786.4" y1="1729.0" x2="786.4" y2="1742.0" stroke="#333" stroke-width="3.2" />
<line x1="850.6" y1="2349.3" x2="850.6" y2="2342.3" stroke="#333" stroke-width="3.2" />
<line x1="850.6" y1="1729.0" x2="850.6" y2="1736.0" stroke="#333" stroke-width="3.2" />
<line x1="914.9" y1="2349.3" x2="914.9" y2="2336.3" stroke="#333" stroke-width="3.2" />
<line x1="914.9" y1="1729.0" x2="914.9" y2="1742.0" stroke="#333" stroke-width="3.2" />
<text x="193.5" y="2363.3" font-size="47.5" font-family="Liberation Sans, Arial, sans-serif" fill="#111" text-anchor="end" >0</text>
<text x="193.5" y="2215.6" font-size="47.5" font-family="Liberation Sans, Arial, sans-serif" fill="#111" text-anchor="end" >10</text>
<text x="193.5" y="2067.9" font-size="47.5" font-family="Liberation Sans, Arial, sans-serif" fill="#111" text-anchor="end" >20</text>
<text x="193.5" y="1920.2" font-size="47.5" font-family="Liberation Sans, Arial, sans-serif" fill="#111" text-anchor="end" >30</text>
<text x="193.5" y="1772.5" font-size="47.5" font-family="Liberation Sans, Arial, sans-serif" fill="#111" text-anchor="end" >40</text>
<text x="272.4" y="2399.0" font-size="47.5" font-family="Liberation Sans, Arial, sans-serif" fill="#111" text-anchor="middle" >20</text>
<text x="400.9" y="2399.0" font-size="47.5" font-family="Liberation Sans, Arial, sans-serif" fill="#111" text-anchor="middle" >30</text>
<text x="529.4" y="2399.0" font-size="47.5" font-family="Liberation Sans, Arial, sans-serif" fill="#111" text-anchor="middle" >40</text>
<text x="657.9" y="2399.0" font-size="47.5" font-family="Liberation Sans, Arial, sans-serif" fill="#111" text-anchor="middle" >50</text>
<text x="786.4" y="2399.0" font-size="47.5" font-family="Liberation Sans, Arial, sans-serif" fill="#111" text-anchor="middle" >60</text>
<text x="914.9" y="2399.0" font-size="47.5" font-family="Liberation Sans, Arial, sans-serif" fill="#111" text-anchor="middle" >70</text>
<text x="296.5" y="2469.5" font-size="61" font-family="Liberation Sans, Arial, sans-serif" fill="#111" textLength="595" lengthAdjust="spacingAndGlyphs">Solid loading (mg/mL)</text>
<text transform="translate(101.1,2270.5) rotate(-90)" font-size="61" font-family="Liberation Sans, Arial, sans-serif" fill="#111" textLength="477" lengthAdjust="spacingAndGlyphs">Viscosity (mPa*s)</text>
<circle cx="272.4" cy="2267.3" r="8" fill="#f00000"/>
<rect x="265.4" y="2270.7" width="14" height="14" fill="#0000f0"/>
<path d="M262.9 2290.6 L272.4 2274.6 L281.9 2290.6Z" fill="#000"/>
<circle cx="465.1" cy="2231.1" r="8" fill="#f00000"/>
<rect x="458.1" y="2237.4" width="14" height="14" fill="#0000f0"/>
<path d="M455.6 2263.2 L465.1 2247.2 L474.6 2263.2Z" fill="#000"/>
<circle cx="657.9" cy="2059.8" r="8" fill="#f00000"/>
<rect x="650.9" y="2094.2" width="14" height="14" fill="#0000f0"/>
<path d="M648.4 2140.7 L657.9 2124.7 L667.4 2140.7Z" fill="#000"/>
<circle cx="914.9" cy="1777.7" r="8" fill="#f00000"/>
<rect x="907.9" y="1860.8" width="14" height="14" fill="#0000f0"/>
<path d="M905.4 1947.2 L914.9 1931.2 L924.4 1947.2Z" fill="#000"/>
<circle cx="796.8" cy="2182.6" r="8" fill="#f00000"/>
<rect x="789.5" y="2228" width="14" height="14" fill="#0000f0"/>
<path d="M787.4 2293.3 L796.6 2276.5 L805.7 2293.3Z" fill="#000"/>
<text x="843.0" y="2197.0" font-size="42" font-family="Liberation Sans, Arial, sans-serif" fill="#111" text-anchor="start" >20 °C</text>
<text x="843.0" y="2249.0" font-size="42" font-family="Liberation Sans, Arial, sans-serif" fill="#111" text-anchor="start" >25 °C</text>
<text x="843.0" y="2301.0" font-size="42" font-family="Liberation Sans, Arial, sans-serif" fill="#111" text-anchor="start" >30 °C</text>
<line x1="2020" y1="1692" x2="2020" y2="2557" stroke="#f7f7c4" stroke-width="2.2"/>
<rect x="1258.3" y="1738.6" width="715.7" height="642.4" fill="none" stroke="#444" stroke-width="3.2"/>
<line x1="1272.4" y1="2381.0" x2="1272.4" y2="2374.0" stroke="#444" stroke-width="3" />
<line x1="1272.4" y1="1738.6" x2="1272.4" y2="1745.6" stroke="#444" stroke-width="3" />
<line x1="1285.5" y1="2381.0" x2="1285.5" y2="2374.0" stroke="#444" stroke-width="3" />
<line x1="1285.5" y1="1738.6" x2="1285.5" y2="1745.6" stroke="#444" stroke-width="3" />
<line x1="1297.0" y1="2381.0" x2="1297.0" y2="2374.0" stroke="#444" stroke-width="3" />
<line x1="1297.0" y1="1738.6" x2="1297.0" y2="1745.6" stroke="#444" stroke-width="3" />
<line x1="1307.4" y1="2381.0" x2="1307.4" y2="2368.0" stroke="#444" stroke-width="3" />
<line x1="1307.4" y1="1738.6" x2="1307.4" y2="1751.6" stroke="#444" stroke-width="3" />
<line x1="1375.5" y1="2381.0" x2="1375.5" y2="2374.0" stroke="#444" stroke-width="3" />
<line x1="1375.5" y1="1738.6" x2="1375.5" y2="1745.6" stroke="#444" stroke-width="3" />
<line x1="1415.3" y1="2381.0" x2="1415.3" y2="2374.0" stroke="#444" stroke-width="3" />
<line x1="1415.3" y1="1738.6" x2="1415.3" y2="1745.6" stroke="#444" stroke-width="3" />
<line x1="1443.6" y1="2381.0" x2="1443.6" y2="2374.0" stroke="#444" stroke-width="3" />
<line x1="1443.6" y1="1738.6" x2="1443.6" y2="1745.6" stroke="#444" stroke-width="3" />
<line x1="1465.5" y1="2381.0" x2="1465.5" y2="2374.0" stroke="#444" stroke-width="3" />
<line x1="1465.5" y1="1738.6" x2="1465.5" y2="1745.6" stroke="#444" stroke-width="3" />
<line x1="1483.4" y1="2381.0" x2="1483.4" y2="2374.0" stroke="#444" stroke-width="3" />
<line x1="1483.4" y1="1738.6" x2="1483.4" y2="1745.6" stroke="#444" stroke-width="3" />
<line x1="1498.6" y1="2381.0" x2="1498.6" y2="2374.0" stroke="#444" stroke-width="3" />
<line x1="1498.6" y1="1738.6" x2="1498.6" y2="1745.6" stroke="#444" stroke-width="3" />
<line x1="1511.7" y1="2381.0" x2="1511.7" y2="2374.0" stroke="#444" stroke-width="3" />
<line x1="1511.7" y1="1738.6" x2="1511.7" y2="1745.6" stroke="#444" stroke-width="3" />
<line x1="1523.2" y1="2381.0" x2="1523.2" y2="2374.0" stroke="#444" stroke-width="3" />
<line x1="1523.2" y1="1738.6" x2="1523.2" y2="1745.6" stroke="#444" stroke-width="3" />
<line x1="1533.6" y1="2381.0" x2="1533.6" y2="2368.0" stroke="#444" stroke-width="3" />
<line x1="1533.6" y1="1738.6" x2="1533.6" y2="1751.6" stroke="#444" stroke-width="3" />
<line x1="1601.7" y1="2381.0" x2="1601.7" y2="2374.0" stroke="#444" stroke-width="3" />
<line x1="1601.7" y1="1738.6" x2="1601.7" y2="1745.6" stroke="#444" stroke-width="3" />
<line x1="1641.5" y1="2381.0" x2="1641.5" y2="2374.0" stroke="#444" stroke-width="3" />
<line x1="1641.5" y1="1738.6" x2="1641.5" y2="1745.6" stroke="#444" stroke-width="3" />
<line x1="1669.8" y1="2381.0" x2="1669.8" y2="2374.0" stroke="#444" stroke-width="3" />
<line x1="1669.8" y1="1738.6" x2="1669.8" y2="1745.6" stroke="#444" stroke-width="3" />
<line x1="1691.7" y1="2381.0" x2="1691.7" y2="2374.0" stroke="#444" stroke-width="3" />
<line x1="1691.7" y1="1738.6" x2="1691.7" y2="1745.6" stroke="#444" stroke-width="3" />
<line x1="1709.6" y1="2381.0" x2="1709.6" y2="2374.0" stroke="#444" stroke-width="3" />
<line x1="1709.6" y1="1738.6" x2="1709.6" y2="1745.6" stroke="#444" stroke-width="3" />
<line x1="1724.8" y1="2381.0" x2="1724.8" y2="2374.0" stroke="#444" stroke-width="3" />
<line x1="1724.8" y1="1738.6" x2="1724.8" y2="1745.6" stroke="#444" stroke-width="3" />
<line x1="1737.9" y1="2381.0" x2="1737.9" y2="2374.0" stroke="#444" stroke-width="3" />
<line x1="1737.9" y1="1738.6" x2="1737.9" y2="1745.6" stroke="#444" stroke-width="3" />
<line x1="1749.4" y1="2381.0" x2="1749.4" y2="2374.0" stroke="#444" stroke-width="3" />
<line x1="1749.4" y1="1738.6" x2="1749.4" y2="1745.6" stroke="#444" stroke-width="3" />
<line x1="1759.8" y1="2381.0" x2="1759.8" y2="2368.0" stroke="#444" stroke-width="3" />
<line x1="1759.8" y1="1738.6" x2="1759.8" y2="1751.6" stroke="#444" stroke-width="3" />
<line x1="1827.9" y1="2381.0" x2="1827.9" y2="2374.0" stroke="#444" stroke-width="3" />
<line x1="1827.9" y1="1738.6" x2="1827.9" y2="1745.6" stroke="#444" stroke-width="3" />
<line x1="1867.7" y1="2381.0" x2="1867.7" y2="2374.0" stroke="#444" stroke-width="3" />
<line x1="1867.7" y1="1738.6" x2="1867.7" y2="1745.6" stroke="#444" stroke-width="3" />
<line x1="1896.0" y1="2381.0" x2="1896.0" y2="2374.0" stroke="#444" stroke-width="3" />
<line x1="1896.0" y1="1738.6" x2="1896.0" y2="1745.6" stroke="#444" stroke-width="3" />
<line x1="1917.9" y1="2381.0" x2="1917.9" y2="2374.0" stroke="#444" stroke-width="3" />
<line x1="1917.9" y1="1738.6" x2="1917.9" y2="1745.6" stroke="#444" stroke-width="3" />
<line x1="1935.8" y1="2381.0" x2="1935.8" y2="2374.0" stroke="#444" stroke-width="3" />
<line x1="1935.8" y1="1738.6" x2="1935.8" y2="1745.6" stroke="#444" stroke-width="3" />
<line x1="1951.0" y1="2381.0" x2="1951.0" y2="2374.0" stroke="#444" stroke-width="3" />
<line x1="1951.0" y1="1738.6" x2="1951.0" y2="1745.6" stroke="#444" stroke-width="3" />
<line x1="1964.1" y1="2381.0" x2="1964.1" y2="2374.0" stroke="#444" stroke-width="3" />
<line x1="1964.1" y1="1738.6" x2="1964.1" y2="1745.6" stroke="#444" stroke-width="3" />
<line x1="1258.3" y1="2316.4" x2="1265.3" y2="2316.4" stroke="#444" stroke-width="3" />
<line x1="1258.3" y1="2252.2" x2="1271.3" y2="2252.2" stroke="#444" stroke-width="3" />
<line x1="1258.3" y1="2188.1" x2="1265.3" y2="2188.1" stroke="#444" stroke-width="3" />
<line x1="1258.3" y1="2123.9" x2="1271.3" y2="2123.9" stroke="#444" stroke-width="3" />
<line x1="1258.3" y1="2059.7" x2="1265.3" y2="2059.7" stroke="#444" stroke-width="3" />
<line x1="1258.3" y1="1995.5" x2="1271.3" y2="1995.5" stroke="#444" stroke-width="3" />
<line x1="1258.3" y1="1931.3" x2="1265.3" y2="1931.3" stroke="#444" stroke-width="3" />
<line x1="1258.3" y1="1867.2" x2="1271.3" y2="1867.2" stroke="#444" stroke-width="3" />
<line x1="1258.3" y1="1803.0" x2="1265.3" y2="1803.0" stroke="#444" stroke-width="3" />
<line x1="1974.0" y1="1792.1" x2="1966.0" y2="1792.1" stroke="#444" stroke-width="3" />
<line x1="1974.0" y1="1845.7" x2="1957.0" y2="1845.7" stroke="#444" stroke-width="3" />
<line x1="1974.0" y1="1899.2" x2="1966.0" y2="1899.2" stroke="#444" stroke-width="3" />
<line x1="1974.0" y1="1952.7" x2="1957.0" y2="1952.7" stroke="#444" stroke-width="3" />
<line x1="1974.0" y1="2006.3" x2="1966.0" y2="2006.3" stroke="#444" stroke-width="3" />
<line x1="1974.0" y1="2059.8" x2="1957.0" y2="2059.8" stroke="#444" stroke-width="3" />
<line x1="1974.0" y1="2113.3" x2="1966.0" y2="2113.3" stroke="#444" stroke-width="3" />
<line x1="1974.0" y1="2166.9" x2="1957.0" y2="2166.9" stroke="#444" stroke-width="3" />
<line x1="1974.0" y1="2220.4" x2="1966.0" y2="2220.4" stroke="#444" stroke-width="3" />
<line x1="1974.0" y1="2273.9" x2="1957.0" y2="2273.9" stroke="#444" stroke-width="3" />
<line x1="1974.0" y1="2327.5" x2="1966.0" y2="2327.5" stroke="#444" stroke-width="3" />
<text x="1244.5" y="2397.6" font-size="53" font-family="Liberation Sans, Arial, sans-serif" fill="#111" text-anchor="end" textLength="81" lengthAdjust="spacingAndGlyphs">0.0</text>
<text x="1244.5" y="2269.2" font-size="53" font-family="Liberation Sans, Arial, sans-serif" fill="#111" text-anchor="end" textLength="81" lengthAdjust="spacingAndGlyphs">0.2</text>
<text x="1244.5" y="2140.9" font-size="53" font-family="Liberation Sans, Arial, sans-serif" fill="#111" text-anchor="end" textLength="81" lengthAdjust="spacingAndGlyphs">0.4</text>
<text x="1244.5" y="2012.5" font-size="53" font-family="Liberation Sans, Arial, sans-serif" fill="#111" text-anchor="end" textLength="81" lengthAdjust="spacingAndGlyphs">0.6</text>
<text x="1244.5" y="1884.2" font-size="53" font-family="Liberation Sans, Arial, sans-serif" fill="#111" text-anchor="end" textLength="81" lengthAdjust="spacingAndGlyphs">0.8</text>
<text x="1244.5" y="1755.8" font-size="53" font-family="Liberation Sans, Arial, sans-serif" fill="#111" text-anchor="end" textLength="81" lengthAdjust="spacingAndGlyphs">1.0</text>
<text x="1307.4" y="2435.0" font-size="54" font-family="Liberation Sans, Arial, sans-serif" fill="#111" text-anchor="middle" >1</text>
<text x="1533.6" y="2435.0" font-size="54" font-family="Liberation Sans, Arial, sans-serif" fill="#111" text-anchor="middle" >10</text>
<text x="1759.8" y="2435.0" font-size="54" font-family="Liberation Sans, Arial, sans-serif" fill="#111" text-anchor="middle" >100</text>
<text x="1378.5" y="2530.6" font-size="72.5" font-family="Liberation Sans, Arial, sans-serif" fill="#111" textLength="509" lengthAdjust="spacingAndGlyphs">Bending cycle</text>
<text transform="translate(1092.6,2140.5) scale(1.13,1) rotate(-90)" font-size="61.5" font-family="Liberation Sans, Arial, sans-serif" fill="#111">I</text>
<text transform="translate(1125.3,2120.5) scale(1.13,1) rotate(-90)" font-size="44" font-family="Liberation Sans, Arial, sans-serif" fill="#111">pc</text>
<text transform="translate(1092.6,2075.5) scale(1.13,1) rotate(-90)" font-size="61.5" font-family="Liberation Sans, Arial, sans-serif" fill="#111">/</text>
<text transform="translate(1092.6,2054.5) scale(1.13,1) rotate(-90)" font-size="61.5" font-family="Liberation Sans, Arial, sans-serif" fill="#111">I</text>
<text transform="translate(1125.3,2034.4) scale(1.13,1) rotate(-90)" font-size="44" font-family="Liberation Sans, Arial, sans-serif" fill="#111">dark</text>
<path d="M1307.4 2168.8V2176.5M1298.9 2168.8h17M1298.9 2176.5h17" stroke="#800080" stroke-width="3.2" fill="none"/>
<circle cx="1307.4" cy="2172.7" r="8.5" fill="#800080"/>
<path d="M1415.3 2186.1V2196.4M1406.8 2186.1h17M1406.8 2196.4h17" stroke="#800080" stroke-width="3.2" fill="none"/>
<circle cx="1415.3" cy="2191.3" r="8.5" fill="#800080"/>
<path d="M1511.7 2150.2V2166.9M1503.2 2150.2h17M1503.2 2166.9h17" stroke="#800080" stroke-width="3.2" fill="none"/>
<circle cx="1511.7" cy="2158.5" r="8.5" fill="#800080"/>
<path d="M1601.7 2157.3V2202.2M1593.2 2157.3h17M1593.2 2202.2h17" stroke="#800080" stroke-width="3.2" fill="none"/>
<circle cx="1601.7" cy="2179.7" r="8.5" fill="#800080"/>
<path d="M1669.8 2170.7V2200.3M1661.3 2170.7h17M1661.3 2200.3h17" stroke="#800080" stroke-width="3.2" fill="none"/>
<circle cx="1669.8" cy="2185.5" r="8.5" fill="#800080"/>
<path d="M1724.8 2100.8V2127.7M1716.3 2100.8h17M1716.3 2127.7h17" stroke="#800080" stroke-width="3.2" fill="none"/>
<circle cx="1724.8" cy="2114.3" r="8.5" fill="#800080"/>
<path d="M1759.8 2113.0V2150.2M1751.3 2113.0h17M1751.3 2150.2h17" stroke="#800080" stroke-width="3.2" fill="none"/>
<circle cx="1759.8" cy="2131.6" r="8.5" fill="#800080"/>
<path d="M1827.9 2094.4V2148.3M1819.4 2094.4h17M1819.4 2148.3h17" stroke="#800080" stroke-width="3.2" fill="none"/>
<circle cx="1827.9" cy="2121.3" r="8.5" fill="#800080"/>
<path d="M1917.9 2083.4V2107.8M1909.4 2083.4h17M1909.4 2107.8h17" stroke="#800080" stroke-width="3.2" fill="none"/>
<circle cx="1917.9" cy="2095.6" r="8.5" fill="#800080"/>
<defs>
<clipPath id="phc"><rect x="167" y="46" width="844" height="318"/></clipPath>
<linearGradient id="phbg" x1="0" y1="0" x2="1" y2="0"><stop offset="0" stop-color="#bdb8b5"/><stop offset="0.35" stop-color="#ccc8c5"/><stop offset="0.7" stop-color="#d9d5d2"/><stop offset="1" stop-color="#dcd8d5"/></linearGradient>
<linearGradient id="phbg2" x1="0" y1="0" x2="0" y2="1"><stop offset="0" stop-color="#fff" stop-opacity="0.25"/><stop offset="0.5" stop-color="#fff" stop-opacity="0"/><stop offset="1" stop-color="#000" stop-opacity="0.08"/></linearGradient>
<linearGradient id="glv" x1="0" y1="0" x2="0.3" y2="1"><stop offset="0" stop-color="#5887b6"/><stop offset="0.5" stop-color="#5282b0"/><stop offset="1" stop-color="#4a7aa8"/></linearGradient>
<linearGradient id="dev" x1="0.25" y1="0" x2="0.75" y2="1"><stop offset="0" stop-color="#d8d4cc"/><stop offset="0.25" stop-color="#e6e2da"/><stop offset="0.45" stop-color="#b4aea2"/><stop offset="0.7" stop-color="#948a7a"/><stop offset="1" stop-color="#6a5a46"/></linearGradient>
<filter id="bl6" x="-20%" y="-20%" width="140%" height="140%"><feGaussianBlur stdDeviation="6"/></filter>
<filter id="bl2"><feGaussianBlur stdDeviation="1.2"/></filter>
</defs>
<g clip-path="url(#phc)">
<rect x="167" y="46" width="844" height="318" fill="url(#phbg)"/>
<rect x="167" y="46" width="844" height="318" fill="url(#phbg2)"/>
<path d="M364.8 184.3 L366.0 163.6 L373.8 148.2 L386.7 135.3 L404.7 127.6 L422.8 124.5 L443.4 125.0 L469.0 127.6 L494.9 128.9 L520.6 132.7 L546.4 136.6 L572.2 140.5 L600.0 143.0 L628.8 145.0 L661.0 155.0 L693.2 167.5 L725.4 180.4 L757.6 193.2 L780.2 206.1 L789.9 219.0 L809.2 231.9 L838.2 251.2 L854.3 267.3 L873.6 286.6 L886.5 309.2 L896.1 335.0 L899.4 366.0 L426.0 366.0 L430.0 330.0 L384.1 230.6 L376.4 220.3 L368.7 207.4 Z" fill="url(#glv)"/>
<clipPath id="glc"><path d="M364.8 184.3 L366.0 163.6 L373.8 148.2 L386.7 135.3 L404.7 127.6 L422.8 124.5 L443.4 125.0 L469.0 127.6 L494.9 128.9 L520.6 132.7 L546.4 136.6 L572.2 140.5 L600.0 143.0 L628.8 145.0 L661.0 155.0 L693.2 167.5 L725.4 180.4 L757.6 193.2 L780.2 206.1 L789.9 219.0 L809.2 231.9 L838.2 251.2 L854.3 267.3 L873.6 286.6 L886.5 309.2 L896.1 335.0 L899.4 366.0 L426.0 366.0 L430.0 330.0 L384.1 230.6 L376.4 220.3 L368.7 207.4 Z"/></clipPath>
<g clip-path="url(#glc)" filter="url(#bl6)">
<ellipse cx="630" cy="250" rx="35" ry="50" fill="#41709d" opacity="0.6"/>
<ellipse cx="705" cy="245" rx="60" ry="50" fill="#6690ba" opacity="0.45"/>
<ellipse cx="520" cy="165" rx="70" ry="22" fill="#6692c0" opacity="0.5"/>
<ellipse cx="830" cy="300" rx="45" ry="50" fill="#6a97c0" opacity="0.6"/>
<ellipse cx="770" cy="215" rx="25" ry="30" fill="#6f9ac2" opacity="0.5"/>
<ellipse cx="400" cy="175" rx="28" ry="35" fill="#44729f" opacity="0.5"/>
<ellipse cx="700" cy="345" rx="90" ry="22" fill="#3e6b98" opacity="0.6"/>
</g>
<path d="M631 311 Q690 322 728 318 L757 286 L748 300 Q720 330 690 328 Q650 325 631 311 Z" fill="#1f3b69" opacity="0.6" filter="url(#bl2)"/>
<path d="M594 296 Q650 312 700 318 Q730 319 757 285" stroke="#24446f" stroke-width="3" fill="none" opacity="0.55" filter="url(#bl2)"/>
<path d="M800 240 Q830 280 850 340" stroke="#4a76a2" stroke-width="3" fill="none" opacity="0.5" filter="url(#bl2)"/>
<path d="M366.0 251.2 L497.5 127.6 L552.9 204.9 L540.0 222.0 L448.5 297.6 L427.9 326.0 L420.0 318.0 Z" fill="url(#dev)"/>
<g stroke="#2a2620" stroke-width="3.2" fill="none" opacity="0.85"><path d="M395 258 L515 150"/><path d="M418 288 L540 180"/><path d="M400 240 L440 300"/><path d="M428 212 L470 270"/><path d="M456 186 L498 244"/><path d="M483 160 L525 218"/></g>
<path d="M378 250 L503 138 L512 147 L389 260 Z" fill="#ffffff" opacity="0.6"/>
<path d="M420 300 L530 205 L540 215 L432 312 Z" fill="#5a4c3c" opacity="0.45"/>
<path d="M366 251.2 L384 238 L432 300 L427.9 326 Z" fill="#9a5a30" opacity="0.75"/>
<path d="M497.5 127.6 L552.9 204.9 L546 210 L492 134 Z" fill="#5a4530" opacity="0.7"/>
<path d="M427.9 366.0 L430.5 349.0 L435.6 323.4 L446.0 297.6 L458.8 271.8 L469.0 246.0 L479.4 230.6 L494.9 220.3 L515.5 212.6 L531.0 211.3 L543.8 215.2 L559.3 228.0 L572.2 246.0 L600.0 280.0 L640.0 330.0 L680.0 366.0 Z" fill="#5887b4"/>
<g clip-path="url(#glc)" filter="url(#bl6)"><ellipse cx="515" cy="300" rx="45" ry="50" fill="#6894c0" opacity="0.5"/><ellipse cx="470" cy="340" rx="30" ry="25" fill="#4c7cab" opacity="0.5"/></g>
<path d="M479 231 Q500 216 531 211 Q550 213 572 246" stroke="#3f6c99" stroke-width="3" fill="none" opacity="0.5" filter="url(#bl2)"/>
</g>
<defs>
<filter id="mapt" x="0" y="0" width="100%" height="100%"><feTurbulence type="fractalNoise" baseFrequency="0.16 0.3" numOctaves="2" seed="3" result="n"/>
<feColorMatrix in="n" type="matrix" values="0 0 0 0 0.56  0 0 0 0 0.61  0 0 0 0 0.68  9 0 0 0 -6.0" result="d1"/>
<feColorMatrix in="n" type="matrix" values="0 0 0 0 0.72  0 0 0 0 0.5  0 0 0 0 0.38  0 8 0 0 -5.3" result="d2"/>
<feColorMatrix in="n" type="matrix" values="0 0 0 0 0.2  0 0 0 0 0.23  0 0 0 0 0.28  0 0 5 0 -2.4" result="d3"/>
<feMerge result="m"><feMergeNode in="SourceGraphic"/><feMergeNode in="d3"/><feMergeNode in="d1"/><feMergeNode in="d2"/></feMerge>
<feComposite in="m" in2="SourceGraphic" operator="in"/></filter>
<filter id="mapr" x="0" y="0" width="100%" height="100%"><feTurbulence type="fractalNoise" baseFrequency="0.35 0.35" numOctaves="2" seed="5" result="n"/>
<feColorMatrix in="n" type="matrix" values="0 0 0 0 0.8  0 0 0 0 0.82  0 0 0 0 0.85  8 0 0 0 -5.2" result="d1"/>
<feColorMatrix in="n" type="matrix" values="0 0 0 0 0.42  0 0 0 0 0.44  0 0 0 0 0.47  0 6 0 0 -3.4" result="d3"/>
<feMerge result="m"><feMergeNode in="SourceGraphic"/><feMergeNode in="d3"/><feMergeNode in="d1"/></feMerge>
<feComposite in="m" in2="SourceGraphic" operator="in"/></filter>
<linearGradient id="auTop" x1="0" y1="0" x2="1" y2="0"><stop offset="0" stop-color="#f5d650"/><stop offset="0.5" stop-color="#f8e07a"/><stop offset="1" stop-color="#f6da62"/></linearGradient>
<pattern id="hbn" x="166" y="587" width="26" height="30" patternUnits="userSpaceOnUse"><circle cx="6" cy="15" r="5" fill="#20e0b0"/><circle cx="19" cy="15" r="5" fill="#c8f020"/></pattern>
<pattern id="ws2" x="154" y="616" width="40" height="64" patternUnits="userSpaceOnUse">
<path d="M0 32 L20 12 L40 32 L20 52 Z" fill="#4c5a22" stroke="#b4c832" stroke-width="5.5"/><path d="M20 12 L20 52" stroke="#7a8a24" stroke-width="3"/>
<circle cx="0" cy="32" r="5" fill="#c080d0"/><circle cx="40" cy="32" r="5" fill="#c080d0"/>
<circle cx="10" cy="12" r="6" fill="#88b4ea"/><circle cx="30" cy="12" r="6" fill="#88b4ea"/><circle cx="10" cy="54" r="6" fill="#88b4ea"/><circle cx="30" cy="54" r="6" fill="#88b4ea"/></pattern>
<pattern id="teta" x="166" y="683" width="14" height="26" patternUnits="userSpaceOnUse"><rect width="14" height="26" fill="#4a4c4e"/><circle cx="7" cy="13" r="5" fill="#7a7c7c"/><rect x="12" y="12" width="3" height="2" fill="#c8c8a0"/></pattern>
</defs>
<path d="M141.2 708.6 L599.0 716.0 L599.0 751.0 L141.2 741.4 Z" fill="#c2eef8"/>
<path d="M599.0 716.0 L724.8 697.7 L724.8 728.6 L599.0 751.0 Z" fill="#c6f0fa"/>
<path d="M166.5 684.0 L560.0 690.0 L696.7 676.0 L696.7 697.0 L599.0 712.0 L166.5 712.0 Z" fill="url(#teta)"/>
<path d="M166.5 682.0 L600.0 687.0 L696.7 674.0 L696.7 682.0 L600.0 694.0 L166.5 690.0 Z" fill="#3a3c3e" opacity="0.8"/>
<path d="M154.4 616.0 L599.0 620.0 L706.0 608.0 L706.0 662.0 L599.0 681.0 L154.4 679.0 Z" fill="#222a30"/>
<path d="M154.4 616.0 L599.0 620.0 L706.0 608.0 L706.0 662.0 L599.0 681.0 L154.4 679.0 Z" fill="url(#ws2)" transform="translate(0,0)"/>
<path d="M166.5 585.0 L600.0 589.0 L698.0 576.0 L698.0 598.0 L600.0 614.0 L166.5 612.0 Z" fill="#0c3a36"/>
<path d="M166.5 594.0 L600.0 600.0 L698.0 584.0 L698.0 598.0 L600.0 614.0 L166.5 609.0 Z" fill="url(#hbn)" opacity="0.95"/>
<path d="M140.0 483.3 L602.0 490.5 L602.0 589.8 L140.0 578.1 Z" fill="#47515d" filter="url(#mapt)"/>
<path d="M602.0 490.5 L725.7 470.0 L725.7 564.5 L602.0 589.8 Z" fill="#878b90" filter="url(#mapr)"/>
<path d="M140.0 478.0 L602.0 486.0 L725.7 464.0 L725.7 470.0 L602.0 492.0 L140.0 484.0 Z" fill="#111"/>
<path d="M140.0 452.7 L602.0 462.4 L602.0 487.0 L140.0 476.0 Z" fill="#79d49b"/>
<path d="M602.0 462.4 L725.7 440.0 L725.7 462.4 L602.0 487.0 Z" fill="#74cf96"/>
<path d="M140.0 447.5 L602.0 458.0 L725.7 432.0 L725.7 441.0 L602.0 464.0 L140.0 453.0 Z" fill="#111"/>
<path d="M142.0 425.3 L265.4 400.0 L725.7 411.0 L602.0 440.0 Z" fill="url(#auTop)"/>
<path d="M142.0 425.3 L602.0 440.0 L602.0 459.0 L142.0 447.5 Z" fill="#f6d20c"/>
<path d="M602.0 440.0 L725.7 411.0 L725.7 433.0 L602.0 459.0 Z" fill="#f6d858"/>
<text x="739.5" y="428.8" font-size="48" font-family="Liberation Sans, Arial, sans-serif" font-weight="bold" fill="#000" textLength="63" lengthAdjust="spacingAndGlyphs">Au</text>
<text x="739.5" y="480.5" font-size="48.5" font-family="Liberation Sans, Arial, sans-serif" font-weight="bold" fill="#000" textLength="121.5" lengthAdjust="spacingAndGlyphs">PTAA</text>
<text x="738" y="543.2" font-size="46" font-family="Liberation Sans, Arial, sans-serif" font-weight="bold" fill="#000">MAPbI<tspan font-size="30" dy="10">3</tspan><tspan dy="-10">:GQDs</tspan></text>
<text x="741.5" y="594" font-size="48" font-family="Liberation Sans, Arial, sans-serif" font-weight="bold" fill="#000" textLength="108.5" lengthAdjust="spacingAndGlyphs">h-BN</text>
<text x="742" y="649.7" font-size="48.5" font-family="Liberation Sans, Arial, sans-serif" font-weight="bold" fill="#000">WS<tspan font-size="31" dy="10">2</tspan></text>
<text x="741.5" y="702.5" font-size="46.5" font-family="Liberation Sans, Arial, sans-serif" font-weight="bold" fill="#000" textLength="195" lengthAdjust="spacingAndGlyphs">TETA-GR</text>
<line x1="1040.5" y1="372" x2="1040.5" y2="762" stroke="#fbf8c8" stroke-width="3"/>
<line x1="1040.5" y1="25" x2="1040.5" y2="50" stroke="#fbf8c8" stroke-width="3"/>
<line x1="1020.5" y1="815" x2="1020.5" y2="1585" stroke="#fbfbe0" stroke-width="2.5"/>
<defs>
<linearGradient id="cWSl" x1="0" y1="0" x2="1" y2="0.3"><stop offset="0" stop-color="#b8f4fa"/><stop offset="1" stop-color="#8ae8f6"/></linearGradient>
<linearGradient id="cSAMl" x1="0" y1="0" x2="1" y2="0.3"><stop offset="0" stop-color="#f4a0b0"/><stop offset="1" stop-color="#ee7080"/></linearGradient>
<linearGradient id="cITOl" x1="0" y1="0" x2="1" y2="0.3"><stop offset="0" stop-color="#a8a8e8"/><stop offset="1" stop-color="#8080d8"/></linearGradient>
<linearGradient id="cGr" x1="0" y1="0" x2="1" y2="0"><stop offset="0" stop-color="#aaa49e"/><stop offset="1" stop-color="#a49e98"/></linearGradient>
</defs>
<path d="M94.3 1220.7 L199.4 1401.7 L205.7 1474.5 L97.0 1268.0 Z" fill="url(#cITOl)"/>
<path d="M199.4 1401.7 L778.6 1223.0 L770.5 1278.8 L205.7 1474.5 Z" fill="#3434bf"/>
<path d="M199.4 1401.7 L778.6 1223.0 L777.2 1233.0 L201.0 1412.0 Z" fill="#5c5cd2"/>
<path d="M87.0 1160.3 L193.2 1320.6 L199.4 1401.7 L94.3 1220.7 Z" fill="url(#cSAMl)"/>
<path d="M87.0 1160.3 L193.2 1320.6 L194.0 1325.0 L88.0 1164.5 Z" fill="#e8303c"/>
<path d="M193.2 1320.6 L787.4 1164.4 L778.6 1223.0 L199.4 1401.7 Z" fill="#d21e20"/>
<path d="M193.2 1320.6 L787.4 1164.4 L785.0 1174.0 L195.0 1331.0 Z" fill="#ec3e40"/>
<path d="M78.0 1074.0 L187.0 1222.0 L193.2 1320.6 L87.0 1160.3 Z" fill="url(#cWSl)"/>
<path d="M79.0 1098.0 L189.0 1233.0 L190.0 1245.0 L81.0 1110.0 Z" fill="#3fd0ee"/>
<path d="M187.0 1224.0 L792.0 1096.0 L787.4 1164.4 L193.2 1320.6 Z" fill="#189ad8"/>
<path d="M187.0 1224.0 L792.0 1096.0 L792.0 1113.0 L196.0 1249.0 Z" fill="#3cbbe9"/>
<path d="M77.7 1070.8 L186.0 1210.0 L187.0 1226.0 L78.0 1078.0 Z" fill="#d6d0dc"/>
<path d="M185.0 1210.0 L795.0 1085.4 L795.0 1096.0 L187.0 1226.0 Z" fill="#4a4849"/>
<path d="M77.7 1070.8 L563.4 1009.3 L794.7 1085.4 L185.0 1210.0 Z" fill="url(#cGr)"/>
<text transform="translate(147.3,1127.3) matrix(2.000 -0.260 0.420 1.000 0 0)" font-size="52" font-family="Liberation Sans, Arial, sans-serif" fill="none" stroke="#ece8e4" stroke-width="1.00">G</text>
<text transform="translate(253.3,1111.9) matrix(1.876 -0.244 0.394 0.938 0 0)" font-size="52" font-family="Liberation Sans, Arial, sans-serif" fill="none" stroke="#ece8e4" stroke-width="1.07">r</text>
<text transform="translate(301.3,1105.0) matrix(1.820 -0.237 0.382 0.910 0 0)" font-size="52" font-family="Liberation Sans, Arial, sans-serif" fill="none" stroke="#ece8e4" stroke-width="1.10">a</text>
<text transform="translate(382.3,1093.2) matrix(1.726 -0.224 0.362 0.863 0 0)" font-size="52" font-family="Liberation Sans, Arial, sans-serif" fill="none" stroke="#ece8e4" stroke-width="1.16">p</text>
<text transform="translate(440.3,1084.8) matrix(1.658 -0.216 0.348 0.829 0 0)" font-size="52" font-family="Liberation Sans, Arial, sans-serif" fill="none" stroke="#ece8e4" stroke-width="1.21">h</text>
<text transform="translate(494.8,1076.9) matrix(1.594 -0.207 0.335 0.797 0 0)" font-size="52" font-family="Liberation Sans, Arial, sans-serif" fill="none" stroke="#ece8e4" stroke-width="1.25">e</text>
<text transform="translate(549.3,1069.0) matrix(1.531 -0.199 0.321 0.765 0 0)" font-size="52" font-family="Liberation Sans, Arial, sans-serif" fill="none" stroke="#ece8e4" stroke-width="1.31">n</text>
<text transform="translate(603.3,1061.2) matrix(1.468 -0.191 0.308 0.734 0 0)" font-size="52" font-family="Liberation Sans, Arial, sans-serif" fill="none" stroke="#ece8e4" stroke-width="1.36">e</text>
<text transform="translate(146.0,1126.0) matrix(2.000 -0.260 0.420 1.000 0 0)" font-size="52" font-family="Liberation Sans, Arial, sans-serif" fill="none" stroke="#6e6964" stroke-width="0.79">G</text>
<text transform="translate(252.0,1110.6) matrix(1.876 -0.244 0.394 0.938 0 0)" font-size="52" font-family="Liberation Sans, Arial, sans-serif" fill="none" stroke="#6e6964" stroke-width="0.84">r</text>
<text transform="translate(300.0,1103.7) matrix(1.820 -0.237 0.382 0.910 0 0)" font-size="52" font-family="Liberation Sans, Arial, sans-serif" fill="none" stroke="#6e6964" stroke-width="0.86">a</text>
<text transform="translate(381.0,1091.9) matrix(1.726 -0.224 0.362 0.863 0 0)" font-size="52" font-family="Liberation Sans, Arial, sans-serif" fill="none" stroke="#6e6964" stroke-width="0.91">p</text>
<text transform="translate(439.0,1083.5) matrix(1.658 -0.216 0.348 0.829 0 0)" font-size="52" font-family="Liberation Sans, Arial, sans-serif" fill="none" stroke="#6e6964" stroke-width="0.95">h</text>
<text transform="translate(493.5,1075.6) matrix(1.594 -0.207 0.335 0.797 0 0)" font-size="52" font-family="Liberation Sans, Arial, sans-serif" fill="none" stroke="#6e6964" stroke-width="0.99">e</text>
<text transform="translate(548.0,1067.7) matrix(1.531 -0.199 0.321 0.765 0 0)" font-size="52" font-family="Liberation Sans, Arial, sans-serif" fill="none" stroke="#6e6964" stroke-width="1.03">n</text>
<text transform="translate(602.0,1059.9) matrix(1.468 -0.191 0.308 0.734 0 0)" font-size="52" font-family="Liberation Sans, Arial, sans-serif" fill="none" stroke="#6e6964" stroke-width="1.07">e</text>
<g stroke="#111" stroke-width="4.2" fill="none"><path d="M464 935V1056"/><path d="M426 934.5H497.5"/><path d="M436.5 921.5H487.5"/><path d="M446.5 907H480"/><path d="M464.6 1386V1471"/></g>
<circle cx="464.6" cy="1485.4" r="12.8" fill="none" stroke="#111" stroke-width="3.6"/>
<text x="495.5" y="1511.5" font-size="54" font-family="Liberation Serif, Times New Roman, serif" fill="#111">V</text>
<text transform="translate(508,1365) rotate(-18.5) skewX(-24)" font-size="54" font-family="Liberation Sans, Arial, sans-serif" fill="#bcbcdc" textLength="70" lengthAdjust="spacingAndGlyphs">ITO</text>
<line x1="808" y1="1083" x2="849" y2="1083" stroke="#111" stroke-width="3.6"/>
<text x="860" y="1098.6" font-size="41" font-family="Liberation Serif, Times New Roman, serif" fill="#111">Graphene</text>
<line x1="808" y1="1138" x2="849" y2="1138" stroke="#111" stroke-width="3.6"/>
<text x="860" y="1152.7" font-size="41" font-family="Liberation Serif, Times New Roman, serif" fill="#111">WS<tspan font-size="27" dy="8">2</tspan></text>
<line x1="808" y1="1195" x2="849" y2="1199" stroke="#111" stroke-width="3.6"/>
<text x="860" y="1215.7" font-size="41" font-family="Liberation Serif, Times New Roman, serif" fill="#111">SAM</text>
<line x1="808" y1="1250" x2="849" y2="1257" stroke="#111" stroke-width="3.6"/>
<text x="860" y="1274.2" font-size="41" font-family="Liberation Serif, Times New Roman, serif" fill="#111">ITO</text>
<defs>
<linearGradient id="vbg" x1="0" y1="0" x2="1" y2="0"><stop offset="0" stop-color="#c9cac4"/><stop offset="0.25" stop-color="#d6d7d2"/><stop offset="0.8" stop-color="#dcddd8"/><stop offset="1" stop-color="#d0d1cc"/></linearGradient>
<linearGradient id="vbg2" x1="0" y1="0" x2="0" y2="1"><stop offset="0" stop-color="#000" stop-opacity="0"/><stop offset="0.6" stop-color="#000" stop-opacity="0"/><stop offset="0.85" stop-color="#000" stop-opacity="0.07"/><stop offset="1" stop-color="#fff" stop-opacity="0.1"/></linearGradient>
<linearGradient id="vglass" x1="0" y1="0" x2="1" y2="0"><stop offset="0" stop-color="#c4c5c0"/><stop offset="0.12" stop-color="#dcddd8"/><stop offset="0.5" stop-color="#e4e4e0"/><stop offset="0.88" stop-color="#dadbd6"/><stop offset="1" stop-color="#c0c1bc"/></linearGradient>
<linearGradient id="vres" x1="0" y1="0" x2="0" y2="1"><stop offset="0" stop-color="#c8c2aa" stop-opacity="0"/><stop offset="0.5" stop-color="#b0a886" stop-opacity="0.8"/><stop offset="1" stop-color="#8a8468"/></linearGradient>
<linearGradient id="vliq" x1="0" y1="0" x2="1" y2="0"><stop offset="0" stop-color="#3a3c38"/><stop offset="0.5" stop-color="#2c2e2a"/><stop offset="1" stop-color="#363834"/></linearGradient>
<filter id="vb1"><feGaussianBlur stdDeviation="1.5"/></filter>
</defs>
<rect x="228.7" y="1757.3" width="156.7" height="279" fill="url(#vbg)"/>
<rect x="228.7" y="1757.3" width="156.7" height="279" fill="url(#vbg2)"/>
<g filter="url(#vb1)">
<path d="M271 1828 L343 1828 L343.5 2008 Q343 2021 330 2022 L284 2022 Q272 2021 272 2008 Z" fill="url(#vglass)" stroke="#9a9b96" stroke-width="1.5"/>
<path d="M272 1923 Q290 1905 305 1930 Q325 1940 343 1925 L343.5 1958 L272 1958 Z" fill="url(#vres)"/>
<path d="M273 1958 Q308 1950 344 1958 L344 2008 Q343 2021 330 2022 L286 2022 Q273 2021 273 2008 Z" fill="url(#vliq)"/>
<ellipse cx="308" cy="1960" rx="33" ry="5" fill="#4a4e4a" opacity="0.7"/>
<rect x="262" y="1772" width="84.5" height="56" rx="6" fill="#0e0f12"/>
<ellipse cx="304" cy="1776" rx="40" ry="4" fill="#2a2b30" opacity="0.8"/>
</g>
<rect x="228.7" y="1757.3" width="156.7" height="279" fill="none" stroke="#111" stroke-width="4"/>
<defs>
<clipPath id="fclip"><rect x="1291" y="1765" width="377.6" height="318.4" rx="3"/></clipPath>
<linearGradient id="fbg" x1="0" y1="1" x2="1" y2="0"><stop offset="0" stop-color="#d4d1cd"/><stop offset="0.45" stop-color="#e2e0dc"/><stop offset="1" stop-color="#e6e4e1"/></linearGradient>
<linearGradient id="forg" x1="0" y1="0" x2="0.8" y2="1"><stop offset="0" stop-color="#e28a3c"/><stop offset="0.3" stop-color="#da6a10"/><stop offset="0.7" stop-color="#cc5e0c"/><stop offset="1" stop-color="#c26a30"/></linearGradient>
<filter id="fb3" x="-10%" y="-10%" width="120%" height="120%"><feGaussianBlur stdDeviation="3"/></filter>
<filter id="fb1"><feGaussianBlur stdDeviation="0.9"/></filter>
</defs>
<g clip-path="url(#fclip)">
<rect x="1289" y="1763" width="382" height="323" fill="url(#fbg)"/>
<g filter="url(#fb3)">
<path d="M1285 1850 L1420 1765 L1290 1765 Z" fill="#dedcd8"/><path d="M1285 1860 L1320 1838 L1360 1812 L1400 1786 L1432 1765 L1445 1765 L1410 1790 L1370 1818 L1330 1845 L1285 1876 Z" fill="#b8b8b6"/>
<path d="M1285 1866 L1316 1848 L1354 1822 L1388 1799 L1413 1781 L1432 1765 L1445 1765 L1420 1790 L1392 1812 L1356 1836 L1318 1862 L1285 1885 Z" fill="#9a9a98"/>
<path d="M1285 1900 L1360 1860 L1440 1820 L1520 1790 L1600 1770 L1672 1770 L1672 1800 L1560 1830 L1450 1870 L1360 1915 L1285 1955 Z" fill="#f2f1ee" opacity="0.8"/>
<path d="M1285 1990 L1400 1950 L1500 1905 L1600 1880 L1672 1870 L1672 1895 L1580 1915 L1480 1950 L1380 1990 L1285 2020 Z" fill="#f0eeeb" opacity="0.75"/>
<path d="M1285 2045 L1420 2000 L1540 1975 L1672 1950 L1672 2000 L1540 2030 L1420 2060 L1285 2090 Z" fill="#d2cfcb" opacity="0.8"/>
<path d="M1500 2040 L1672 2000 L1672 2090 L1500 2090 Z" fill="#cbc6c1" opacity="0.7"/>
</g>
<path d="M1289.6 1871.9 L1314.7 1853.6 L1353.5 1826.2 L1387.8 1803.4 L1412.9 1785.1 L1431 1769" stroke="#2e2e2e" stroke-width="3.5" fill="none" filter="url(#fb1)"/>
<path d="M1550 1766 Q1570 1805 1616 1828 Q1640 1834 1668 1836" stroke="#9a9c9c" stroke-width="2" fill="none" filter="url(#fb1)"/>
<g filter="url(#fb1)" stroke="#fbfbfa" fill="none"><path d="M1540 1870 L1590 1850" stroke-width="5"/><path d="M1560 1840 L1620 1822" stroke-width="4"/><path d="M1600 1868 L1655 1852" stroke-width="5"/><path d="M1555 1895 L1600 1880" stroke-width="3"/><path d="M1625 1830 L1660 1815" stroke-width="3"/><path d="M1300 1930 L1345 1915" stroke-width="4"/></g>
<path d="M1346.7 1862.8 Q1385 1830 1422 1805.7 C1450 1818 1470 1832 1479 1842 C1495 1858 1505 1868 1513.4 1878.7 C1525 1892 1540 1915 1554.5 1938 C1560 1952 1565 1965 1568.2 1979.2 L1495 2043.2 C1492 2030 1489 2020 1486 2011 C1478 1995 1470 1982 1467.7 1977 C1458 1962 1452 1955 1444.9 1947.3 C1432 1932 1420 1922 1412.9 1915.3 C1398 1902 1385 1893 1376.3 1887.9 C1365 1880 1355 1870 1346.7 1862.8 Z" fill="url(#forg)" filter="url(#fb1)"/>
<path d="M1422 1805.7 C1450 1818 1470 1832 1479 1842 C1495 1858 1505 1868 1513.4 1878.7 C1525 1892 1540 1915 1554.5 1938 C1560 1952 1565 1965 1568.2 1979.2" stroke="#a4500c" stroke-width="2.5" fill="none" opacity="0.7" filter="url(#fb1)"/>
<g filter="url(#fb1)" opacity="0.85"><circle cx="1422" cy="1829" r="4" fill="#f6c898"/><circle cx="1403" cy="1847" r="3.5" fill="#f6c898"/><circle cx="1378" cy="1864" r="3" fill="#f0c090"/><circle cx="1412" cy="1857" r="2.5" fill="#f6d0a8"/><circle cx="1545" cy="1985" r="3" fill="#eab080"/><circle cx="1528" cy="2002" r="3.5" fill="#eab080"/><circle cx="1547" cy="1998" r="2.5" fill="#eab080"/></g>
<g stroke="#1c0c06" stroke-width="3.4" filter="url(#fb1)">
<path d="M1461.0 1870.0 l16 -5"/>
<path d="M1487.0 1893.0 l15 -5"/>
<path d="M1462.9 1876.6 l16 -5"/>
<path d="M1489.6 1899.4 l15 -5"/>
<path d="M1464.8 1883.2 l16 -5"/>
<path d="M1492.2 1905.8 l15 -5"/>
<path d="M1466.7 1889.8 l16 -5"/>
<path d="M1494.8 1912.2 l15 -5"/>
<path d="M1468.6 1896.4 l16 -5"/>
<path d="M1497.4 1918.6 l15 -5"/>
<path d="M1470.5 1903.0 l16 -5"/>
<path d="M1500.0 1925.0 l15 -5"/>
<path d="M1472.4 1909.6 l16 -5"/>
<path d="M1502.6 1931.4 l15 -5"/>
<path d="M1474.3 1916.2 l16 -5"/>
<path d="M1505.2 1937.8 l15 -5"/>
<path d="M1476.2 1922.8 l16 -5"/>
<path d="M1507.8 1944.2 l15 -5"/>
<path d="M1480 1865 L1496 1893 M1494 1890 L1512 1935" stroke-width="2.5"/>
</g>
</g>
<rect x="1579.3" y="2066.8" width="80" height="8" fill="#000"/>
<rect x="1290.9" y="1764.9" width="377.7" height="318.5" rx="3" fill="none" stroke="#2a2a2a" stroke-width="4"/></svg></body></html>
